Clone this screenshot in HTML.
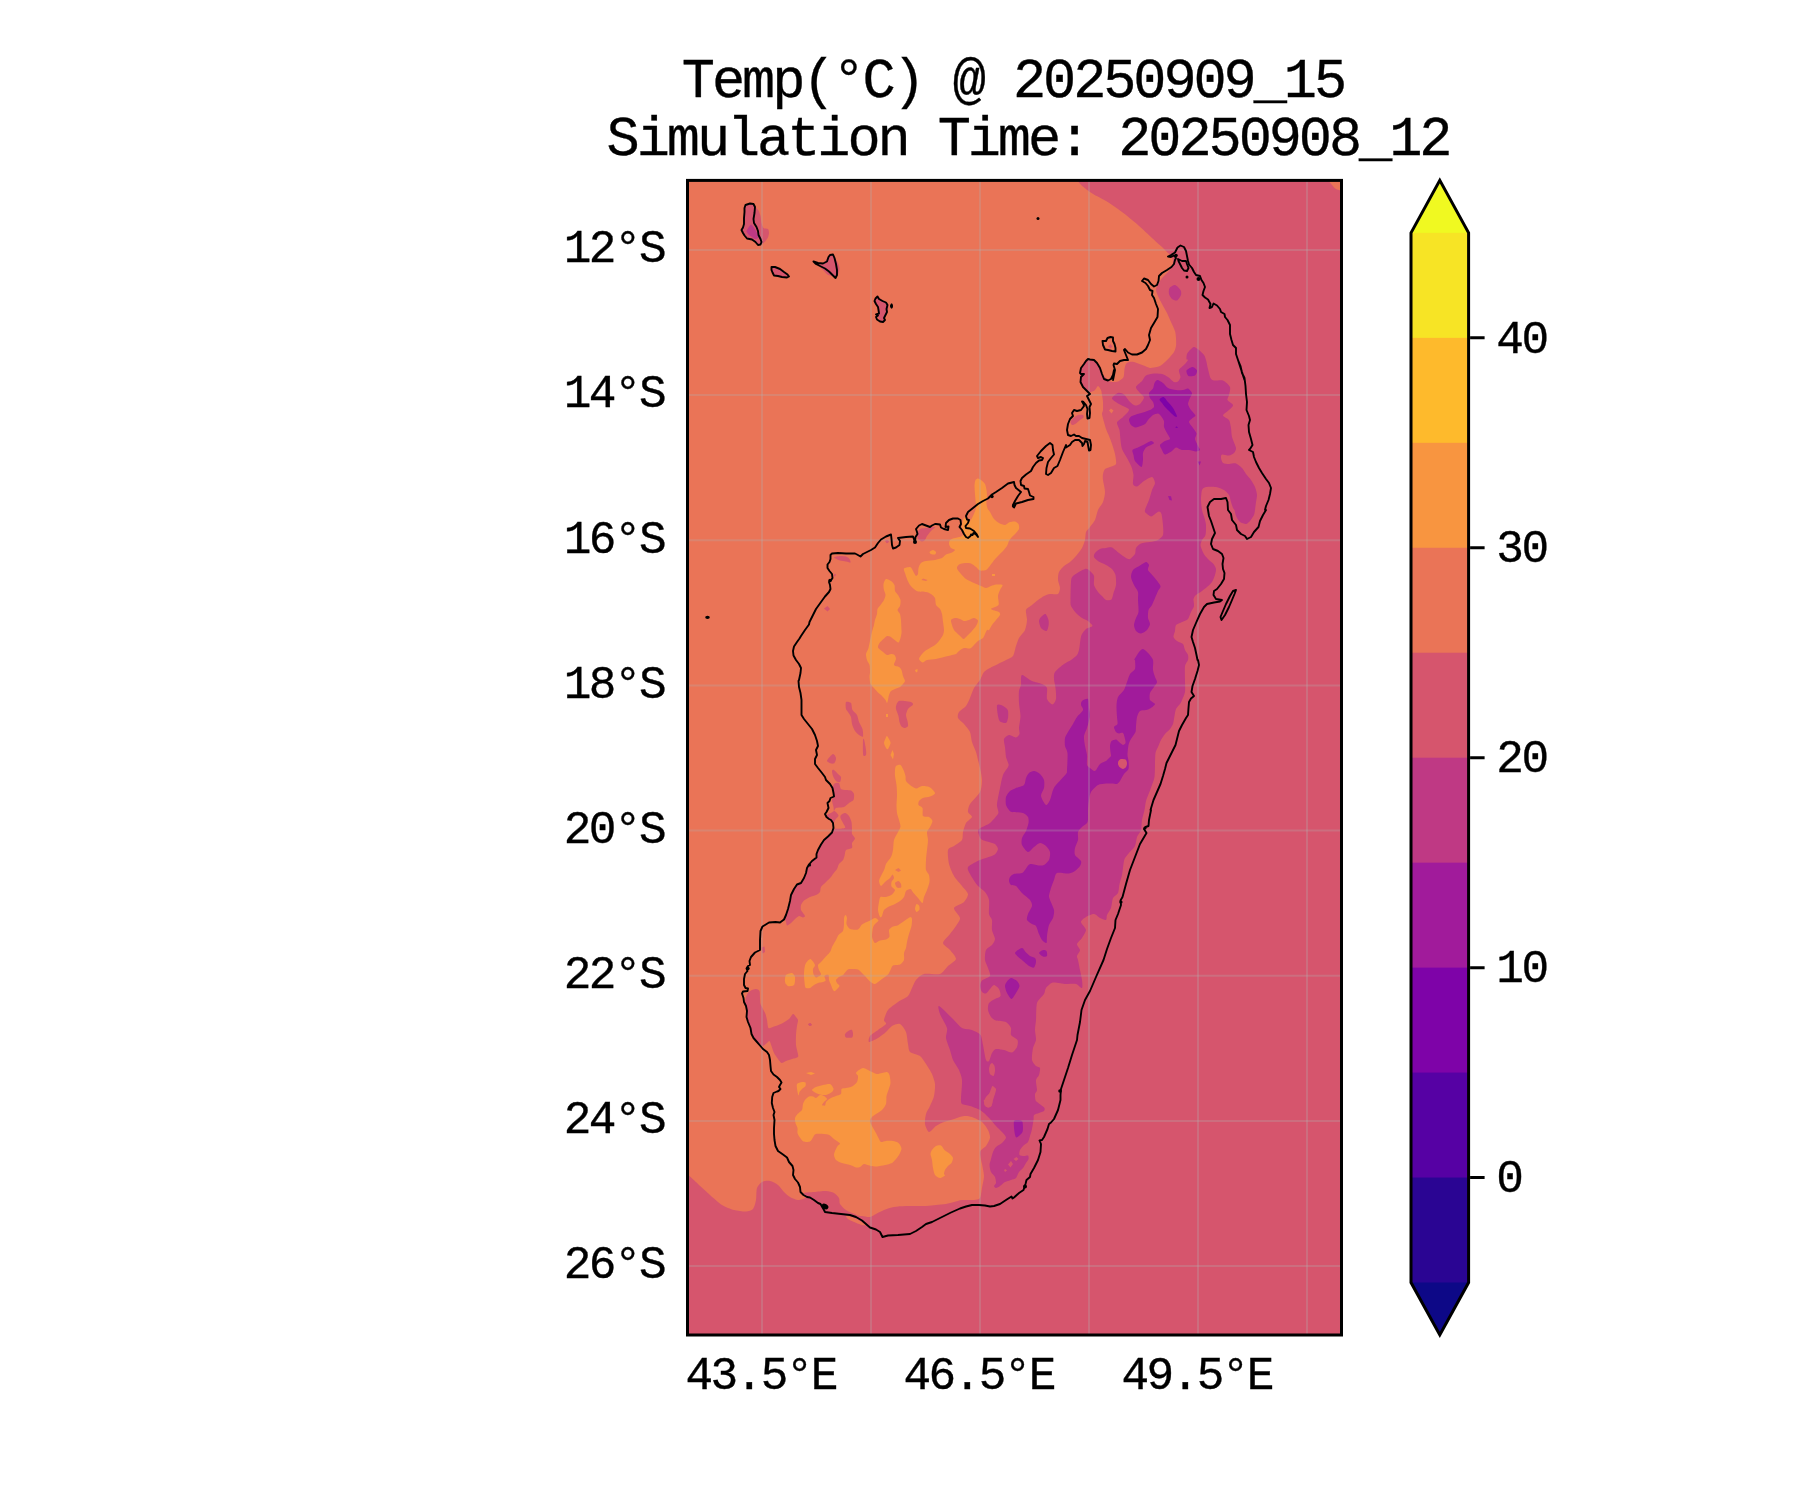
<!DOCTYPE html><html><head><meta charset="utf-8"><title>Temp</title><style>
html,body{margin:0;padding:0;background:#fff}
body{width:1800px;height:1500px;position:relative;overflow:hidden;font-family:"Liberation Mono",monospace;color:#000}
.t{position:absolute;white-space:pre;line-height:1;-webkit-text-stroke:0.35px #000;opacity:0.999;will-change:opacity}
.title{font-size:55.30px;letter-spacing:-3.086px}
.lab{font-size:46.10px;letter-spacing:-2.580px}
</style></head><body>
<svg width="1800" height="1500" viewBox="0 0 1800 1500" style="position:absolute;left:0;top:0">
<defs><clipPath id="ax"><rect x="687.5" y="180.4" width="654" height="1154.6"/></clipPath></defs>
<g clip-path="url(#ax)" shape-rendering="geometricPrecision">
<rect x="680" y="175" width="670" height="1170" fill="#ea7457"/>
<path d="M1077 150C1074.1 160 1075.4 173.7 1077 179C1078.6 184.3 1086.3 189.2 1090 192C1093.7 194.8 1101.9 198.5 1106 201C1110.1 203.5 1117.9 209 1122 212C1126.1 215 1134.2 221.7 1138 225C1141.8 228.3 1149 235.2 1152 238C1155 240.8 1160.2 245.4 1162 247C1163.8 248.6 1165 250 1166 251C1167 252 1169.1 253.9 1170 255C1170.9 256.1 1172.7 258.5 1173 260C1173.3 261.5 1172.6 265.5 1172 267C1171.4 268.5 1169.1 270.7 1168 272C1166.9 273.3 1164 275.9 1163 277C1162 278.1 1160.9 279.5 1160 281C1159.1 282.5 1156.3 287.1 1156 289C1155.7 290.9 1157.2 294.1 1158 296C1158.8 297.9 1160.9 301.8 1162 304C1163.1 306.2 1165.9 310.7 1167 313C1168.1 315.3 1170 319.7 1171 322C1172 324.3 1174.4 329 1175 331C1175.6 333 1175.9 336.1 1176 338C1176.1 339.9 1176.3 344.2 1176 346C1175.7 347.8 1174.8 350.6 1174 352C1173.2 353.4 1171.1 355.7 1170 357C1168.9 358.3 1166.3 360.9 1165 362C1163.7 363.1 1161.4 365.3 1160 366C1158.6 366.7 1155.3 367.2 1154 367.5C1152.7 367.8 1151 368.1 1150 368C1149 367.9 1147.1 366.9 1146 366.5C1144.9 366.1 1142.5 365.1 1141 364.5C1139.5 363.9 1135.5 362.3 1134 362C1132.5 361.7 1130 361.7 1129 362C1128 362.3 1126.6 363.1 1126 364C1125.4 364.9 1124.8 367.4 1124.5 369C1124.2 370.6 1124.3 375.5 1123.6 377C1122.9 378.5 1120.2 380.4 1119 381C1117.8 381.6 1115.3 382 1114 382C1112.7 382 1110.6 382.3 1109 381C1107.4 379.7 1102.4 374.2 1101 372C1099.6 369.8 1099.1 365.5 1098 364C1096.9 362.5 1093.5 360.5 1092 360C1090.5 359.5 1087.4 359 1086 360C1084.6 361 1081.8 365.5 1081 368C1080.2 370.5 1079.6 377.5 1080 380C1080.4 382.5 1082.7 386.5 1084 388C1085.3 389.5 1088.6 391.7 1090 392C1091.4 392.3 1094 390.8 1095 390C1096 389.2 1097.2 386 1098 386C1098.8 386 1100.5 388.9 1101 390C1101.5 391.1 1101.7 393.5 1102 395C1102.3 396.5 1102.9 400.1 1103 402C1103.1 403.9 1103.1 408.5 1103 410C1102.9 411.5 1101.9 412.5 1102 414C1102.1 415.5 1103.5 420.1 1104 422C1104.5 423.9 1105.4 427.2 1106 429C1106.6 430.8 1108.2 434.1 1109 436C1109.8 437.9 1111.2 441.7 1112 444C1112.8 446.3 1114.5 451.5 1115 454C1115.5 456.5 1116.6 462.4 1116 464C1115.4 465.6 1111.4 466.4 1110 467C1108.6 467.6 1105.9 468.1 1105 469C1104.1 469.9 1103.3 472.6 1103 474C1102.7 475.4 1102.7 477.7 1103 480C1103.3 482.3 1105 489.2 1105 492C1105 494.8 1103.9 499.7 1103 502C1102.1 504.3 1099 507.7 1098 510C1097 512.3 1096 517.8 1095 520C1094 522.2 1091.1 525.5 1090 527C1088.9 528.5 1086.6 530.4 1086 532C1085.4 533.6 1085.5 538 1085 540C1084.5 542 1083.1 546 1082 548C1080.9 550 1077.5 554.2 1076 556C1074.5 557.8 1071.5 560.7 1070 562C1068.5 563.3 1065.4 564.7 1064 566C1062.6 567.3 1059.8 570.2 1059 572C1058.2 573.8 1057.9 578 1058 580C1058.1 582 1060 586.2 1060 588C1060 589.8 1059.3 593.2 1058 594C1056.7 594.8 1051.8 593.7 1050 594C1048.2 594.3 1045.5 595.2 1044 596C1042.5 596.8 1039.5 598.9 1038 600C1036.5 601.1 1033.5 603.7 1032 605C1030.5 606.3 1026.6 608.1 1026 610C1025.4 611.9 1027.1 617.5 1027 620C1026.9 622.5 1026 627.7 1025 630C1024 632.3 1020.1 636 1019 638C1017.9 640 1016.8 643.7 1016 646C1015.2 648.3 1014.3 654.2 1013 656C1011.7 657.8 1007.9 659 1006 660C1004.1 661 1000 663 998 664C996 665 991.8 667 990 668C988.2 669 985.3 670.5 984 672C982.7 673.5 981.3 678 980 680C978.7 682 975.3 685.7 974 688C972.7 690.3 971 695.7 970 698C969 700.3 967.4 704.2 966 706C964.6 707.8 960 710.5 959 712C958 713.5 957.4 716.5 958 718C958.6 719.5 962.5 722.2 964 724C965.5 725.8 969 729.7 970 732C971 734.3 971.2 739.5 972 742C972.8 744.5 975.2 749.7 976 752C976.8 754.3 977.5 758 978 760C978.5 762 979.5 765.5 980 768C980.5 770.5 982 777 982 780C982 783 981.5 789 980 792C978.5 795 971.5 801.5 970 804C968.5 806.5 967.7 810.4 968 812C968.3 813.6 972.3 815.6 972 817C971.7 818.4 967.1 821.1 966 823C964.9 824.9 963.5 829.8 963 832C962.5 834.2 963.1 838.2 962 840C960.9 841.8 955.8 844.7 954 846C952.2 847.3 948.6 847.7 948 850C947.4 852.3 948.2 860.7 949 864C949.8 867.3 952.4 873.2 954 876C955.6 878.8 960.2 883.7 962 886C963.8 888.3 967.7 892 968 894C968.3 896 965.8 900.2 964 902C962.2 903.8 954.5 906 954 908C953.5 910 959.7 915.7 960 918C960.3 920.3 957.3 924 956 926C954.7 928 951.6 931.8 950 934C948.4 936.2 943 941 943 943C943 945 948.4 948 950 950C951.6 952 956.3 957 956 959C955.7 961 950 964.1 948 966C946 967.9 943 973 940 974C937 975 927 973.2 924 974C921 974.8 917.5 978.2 916 980C914.5 981.8 913 986 912 988C911 990 909.8 994.2 908 996C906.2 997.8 900.5 1000.2 898 1002C895.5 1003.8 889.8 1007.7 888 1010C886.2 1012.3 884.3 1018.2 884 1020C883.7 1021.8 886.8 1022.7 886 1024C885.2 1025.3 880 1028.5 878 1030C876 1031.5 871.1 1034.5 870 1036C868.9 1037.5 868 1041.7 869 1042C870 1042.3 875.8 1039.3 878 1038C880.2 1036.7 884.2 1033.5 886 1032C887.8 1030.5 890.2 1027 892 1026C893.8 1025 898.2 1023.2 900 1024C901.8 1024.8 905 1029.5 906 1032C907 1034.5 907.5 1041.5 908 1044C908.5 1046.5 908.5 1050.5 910 1052C911.5 1053.5 918 1054.5 920 1056C922 1057.5 924.5 1061.7 926 1064C927.5 1066.3 930.9 1071.5 932 1074C933.1 1076.5 934.7 1081.2 935 1084C935.3 1086.8 934.6 1093.2 934 1096C933.4 1098.8 931 1103.7 930 1106C929 1108.3 926.6 1111.7 926 1114C925.4 1116.3 924.6 1121.7 925 1124C925.4 1126.3 927.6 1131.7 929 1132C930.4 1132.3 934.1 1127.3 936 1126C937.9 1124.7 941.7 1122.9 944 1122C946.3 1121.1 951.5 1119.8 954 1119C956.5 1118.2 961.7 1116.3 964 1116C966.3 1115.7 969.7 1116.2 972 1117C974.3 1117.8 980 1120.4 982 1122C984 1123.6 987 1128 988 1130C989 1132 990.3 1136 990 1138C989.7 1140 987.3 1144.2 986 1146C984.7 1147.8 980.5 1149.7 980 1152C979.5 1154.3 981.5 1161 982 1164C982.5 1167 984 1173 984 1176C984 1179 982.5 1185.2 982 1188C981.5 1190.8 981 1196.5 980 1198C979 1199.5 976.3 1199.7 974 1200C971.7 1200.3 964.5 1199.7 962 1200C959.5 1200.3 956 1201.5 954 1202C952 1202.5 948.3 1203.6 946 1204C943.7 1204.4 938.5 1204.7 936 1205C933.5 1205.3 929.8 1205.9 926 1206C922.2 1206.1 910.1 1205.9 906 1206C901.9 1206.1 896.8 1206.5 894 1207C891.2 1207.5 886.3 1209.1 884 1210C881.7 1210.9 877.8 1213.1 876 1214C874.2 1214.9 871.8 1216.7 870 1217C868.2 1217.3 863.5 1216.2 862 1216C860.5 1215.8 860 1216.4 858 1215.6C856 1214.8 848.3 1211.5 846 1210C843.7 1208.5 840.9 1205.5 840 1204C839.1 1202.5 839.8 1199.4 839 1198C838.2 1196.6 835.6 1193.9 834 1193C832.4 1192.1 828.5 1191.1 826 1191C823.5 1190.9 816.8 1191.7 814 1192C811.2 1192.3 805 1192.3 804 1193C803 1193.7 806.8 1196.5 806 1197.4C805.2 1198.3 800 1200.1 798 1200C796 1199.9 791.8 1198 790 1197C788.2 1196 785.5 1193.5 784 1192C782.5 1190.5 779.8 1186.4 778 1185C776.2 1183.6 772 1181.4 770 1181C768 1180.6 763.6 1181.1 762 1182C760.4 1182.9 757.8 1185.7 757 1188C756.2 1190.3 756.5 1197.3 756 1200C755.5 1202.7 754.3 1207.5 753 1209C751.7 1210.5 748.4 1211.5 746 1211.6C743.6 1211.7 737 1210.8 734 1210C731 1209.2 725 1206.9 722 1205C719 1203.1 713 1197.7 710 1195C707 1192.3 701 1186.8 698 1184C695 1181.2 689 1175.5 686 1173C683 1170.5 679.1 1165.6 674 1164C668.9 1162.4 655.4 1155.4 646 1160C636.6 1164.6 605.8 1167.1 600 1200C594.2 1232.9 496.1 1392.1 600 1420C703.9 1447.9 1316.1 1587.2 1420 1420C1523.9 1252.8 1460.5 267.2 1420 100C1379.5 -67.2 1143.4 93.7 1100 100C1056.6 106.3 1079.9 140 1077 150Z" fill="#d6556d"/>
<path d="M846 1216C846.5 1215.7 850.2 1216.4 852 1217C853.8 1217.6 858.2 1220 860 1221C861.8 1222 865.7 1224.5 866 1225C866.3 1225.5 863.5 1225.4 862 1225C860.5 1224.6 855.8 1222.8 854 1222C852.2 1221.2 849 1219.8 848 1219C847 1218.2 845.5 1216.3 846 1216Z" fill="#ea7457"/>
<path d="M1329 180C1327.7 180.6 1331.1 183.9 1332 185C1332.9 186.1 1334.7 188.4 1336 189C1337.3 189.6 1341.2 191.1 1342 190C1342.8 188.9 1343.6 181.3 1342 180C1340.4 178.7 1330.3 179.4 1329 180Z" fill="#ea7457"/>
<path d="M1194 347C1195.1 347 1197.7 349 1199 350C1200.3 351 1203.1 353.7 1204 355C1204.9 356.3 1205.5 358.2 1206 360C1206.5 361.8 1207.4 366.7 1208 369C1208.6 371.3 1209.7 376.5 1210.5 378C1211.3 379.5 1212.4 380.2 1214 380.5C1215.6 380.8 1221 379.7 1223 380.5C1225 381.3 1229.2 385.2 1230 387C1230.8 388.8 1229.3 393.4 1229 395C1228.7 396.6 1227 398.7 1227.5 400C1228 401.3 1232.8 403.7 1233 405C1233.2 406.3 1230.3 408.7 1229 410C1227.7 411.3 1223 414.2 1223 415.5C1223 416.8 1228 418.4 1229 420C1230 421.6 1230.6 425.8 1231 428C1231.4 430.2 1231.4 434.5 1232 437C1232.6 439.5 1235.7 446 1236 448C1236.3 450 1234.9 452.1 1234 453C1233.1 453.9 1230.5 455.3 1229 455.5C1227.5 455.7 1223 454.2 1222 454.5C1221 454.8 1220.9 456.9 1221 458C1221.1 459.1 1222 462.2 1223 463C1224 463.8 1227.4 463.9 1229 464C1230.6 464.1 1234.4 463 1236 463.5C1237.6 464 1240.7 466.7 1242 468C1243.3 469.3 1244.9 472.5 1246 474C1247.1 475.5 1249.9 478.4 1251 480C1252.1 481.6 1254.2 485.1 1255 487C1255.8 488.9 1256.9 493.1 1257 495C1257.1 496.9 1256.3 500.1 1256 502C1255.7 503.9 1255.3 508.4 1255 510C1254.7 511.6 1254.6 513.6 1254 515C1253.4 516.4 1251 519.9 1250 521C1249 522.1 1247.3 523.9 1246 524C1244.7 524.1 1241.3 523 1240 522C1238.7 521 1236.7 517.5 1236 516C1235.3 514.5 1234.9 511 1234.5 510C1234.1 509 1233.4 509 1233 508C1232.6 507 1231.5 503.6 1231 502C1230.5 500.4 1229.9 496.5 1229 495C1228.1 493.5 1225.6 491 1224 490C1222.4 489 1218.3 487.4 1216 487C1213.7 486.6 1207.8 486.6 1206 487C1204.2 487.4 1202.6 488.4 1202 490C1201.4 491.6 1201 497.5 1201 500C1201 502.5 1201.6 507.7 1202 510C1202.4 512.3 1204 516.1 1204.5 518C1205 519.9 1205.9 522.8 1206 525C1206.1 527.2 1206 533.1 1205.5 535C1205 536.9 1202.6 538.7 1202 540C1201.4 541.3 1200.5 543.7 1200.5 545C1200.5 546.3 1201.5 548.7 1202 550C1202.5 551.3 1203.6 553.7 1204.5 555C1205.4 556.3 1207.9 558.9 1209 560C1210.1 561.1 1212.6 562.9 1213.5 564C1214.4 565.1 1215.8 567.6 1216 569C1216.2 570.4 1215.5 573.4 1215 575C1214.5 576.6 1213 580.5 1212 582C1211 583.5 1208.3 585.9 1207 587C1205.7 588.1 1203.4 590 1202 591C1200.6 592 1197.1 594 1196 595C1194.9 596 1193.8 597.6 1193.5 599C1193.2 600.4 1194.3 604.4 1194 606C1193.7 607.6 1191.8 610.4 1191 612C1190.2 613.6 1189.1 617.7 1188 619C1186.9 620.3 1183.5 621.2 1182 622C1180.5 622.8 1176.9 623.9 1176 625C1175.1 626.1 1175.3 629.5 1175 631C1174.7 632.5 1173.2 635.7 1173.5 637C1173.8 638.3 1175.8 640.1 1177 641C1178.2 641.9 1182 642.9 1183 644C1184 645.1 1184.4 648.6 1185 650C1185.6 651.4 1187.6 653.7 1188 655C1188.4 656.3 1188.4 658.6 1188 660C1187.6 661.4 1185.4 663.5 1185 666C1184.6 668.5 1185 676.7 1185 680C1185 683.3 1185.4 689.5 1185 692C1184.6 694.5 1182.6 698.5 1182 700C1181.4 701.5 1180.8 702.9 1180 704C1179.2 705.1 1176.7 707.5 1176 709C1175.3 710.5 1174.9 714.1 1174.5 716C1174.1 717.9 1173.6 722.4 1173 724C1172.4 725.6 1171 727.7 1170 729C1169 730.3 1166.1 732.6 1165 734C1163.9 735.4 1161.9 738.4 1161 740C1160.1 741.6 1158.7 745.4 1158 747C1157.3 748.6 1155.9 750.7 1155.5 753C1155.1 755.3 1155.1 762 1155 765C1154.9 768 1154.9 774.5 1154.5 777C1154.1 779.5 1152.7 783 1152 785C1151.3 787 1149.8 791 1149 793C1148.2 795 1146.6 798.8 1146 801C1145.4 803.2 1145 807.6 1144.5 810C1144 812.4 1142.4 817.5 1142 820C1141.6 822.5 1141.6 827.8 1141 830C1140.4 832.2 1137.8 835 1137 837C1136.2 839 1136 844 1135 846C1134 848 1130.3 851.4 1129 853C1127.7 854.6 1125.3 857.1 1124.5 859C1123.7 860.9 1123.3 866 1123 868C1122.7 870 1122.4 873 1122 875C1121.6 877 1120 881.7 1119.5 884C1119 886.3 1118.8 891.2 1118 893C1117.2 894.8 1113.9 896.1 1113 898C1112.1 899.9 1111.8 905.8 1111 908C1110.2 910.2 1107.6 913.5 1107 915C1106.4 916.5 1106.9 919.6 1106 920C1105.1 920.4 1101.5 918.8 1100 918C1098.5 917.2 1095.8 914.1 1094 914C1092.2 913.9 1087.6 916 1086 917C1084.4 918 1081 920.4 1081 922C1081 923.6 1085.9 928 1086 930C1086.1 932 1083.1 936.2 1082 938C1080.9 939.8 1077.3 942.5 1077 944C1076.7 945.5 1080 948.5 1080 950C1080 951.5 1077.3 954.7 1077 956C1076.7 957.3 1077.6 958.2 1078 960C1078.4 961.8 1079.5 967.5 1080 970C1080.5 972.5 1081.7 977.7 1082 980C1082.3 982.3 1082.8 987.5 1082 988C1081.2 988.5 1078 984.5 1076 984C1074 983.5 1068.9 984.2 1066 984C1063.1 983.8 1055.5 982 1053 982.5C1050.5 983 1047.1 986.5 1046 988C1044.9 989.5 1045.1 992.1 1044 994C1042.9 995.9 1038 999.7 1037 1003C1036 1006.3 1036.3 1016.6 1036 1020C1035.7 1023.4 1035 1027.5 1035 1030C1035 1032.5 1036.3 1037.7 1036 1040C1035.7 1042.3 1033.5 1045.5 1033 1048C1032.5 1050.5 1031.6 1057.7 1032 1060C1032.4 1062.3 1035 1065 1036 1066C1037 1067 1039.6 1066.9 1040 1068C1040.4 1069.1 1039.5 1073.5 1039 1075C1038.5 1076.5 1036.3 1078.1 1036 1080C1035.7 1081.9 1037.1 1088.2 1037 1090C1036.9 1091.8 1035.2 1092.7 1035 1094C1034.8 1095.3 1035.2 1099 1035.5 1100C1035.8 1101 1036.3 1101.4 1037 1102C1037.7 1102.6 1040 1104.2 1041 1105C1042 1105.8 1044.1 1107.2 1044.5 1108C1044.9 1108.8 1044.7 1110.4 1044 1111C1043.3 1111.6 1040.3 1112.5 1039 1113C1037.7 1113.5 1034.7 1114.1 1034 1115C1033.3 1115.9 1033.8 1118.2 1033.5 1120C1033.2 1121.8 1032.4 1127 1032 1129C1031.6 1131 1030.5 1134.4 1030 1136C1029.5 1137.6 1028.8 1140.8 1028 1142C1027.2 1143.2 1024.5 1144.5 1023.5 1145.5C1022.5 1146.5 1020.5 1148.8 1020 1150C1019.5 1151.2 1019 1154.2 1019.5 1155C1020 1155.8 1022.9 1155.9 1024 1156C1025.1 1156.1 1027.4 1155.1 1028 1155.5C1028.6 1155.9 1028.8 1158 1028.5 1159C1028.2 1160 1026.7 1161.9 1026 1163C1025.3 1164.1 1023.9 1166.9 1023 1168C1022.1 1169.1 1019.9 1170.7 1019 1172C1018.1 1173.3 1017 1177 1016 1178C1015 1179 1012.4 1179.5 1011 1180C1009.6 1180.5 1006.4 1181.2 1005 1182C1003.6 1182.8 1001.1 1185.2 1000 1186C998.9 1186.8 996.8 1188 996 1188C995.2 1188 994 1186.6 994 1186C994 1185.4 995.9 1184.1 996 1183C996.1 1181.9 995.6 1178.4 995 1177C994.4 1175.6 991.7 1173.5 991 1172C990.3 1170.5 989.5 1166.6 989.5 1165C989.5 1163.4 990.6 1160.6 991 1159C991.4 1157.4 992.4 1153.5 993 1152C993.6 1150.5 994.9 1148.1 996 1147C997.1 1145.9 1000.7 1144.2 1002 1143C1003.3 1141.8 1006 1138.9 1006 1137.5C1006 1136.1 1003.3 1133.5 1002 1132C1000.7 1130.5 997.5 1127.6 996 1126C994.5 1124.4 991.5 1120.6 990 1119C988.5 1117.4 985.5 1114.3 984 1113C982.5 1111.7 979.8 1109.9 978 1109C976.2 1108.1 972 1106.6 970 1106C968 1105.4 963.1 1104.8 962 1104C960.9 1103.2 961.1 1100.8 961 1100C960.9 1099.2 960.9 1100.5 961 1098C961.1 1095.5 962.3 1083.5 962 1080C961.7 1076.5 960.1 1072.5 959 1070C957.9 1067.5 954.1 1062.5 953 1060C951.9 1057.5 950.9 1052.8 950 1050C949.1 1047.2 946.4 1040.8 946 1038C945.6 1035.2 947.8 1031 947 1028C946.2 1025 941 1016.8 940 1014C939 1011.2 937.4 1005.4 939 1006C940.6 1006.6 950.1 1016.2 953 1019C955.9 1021.8 959.6 1026.6 962 1028C964.4 1029.4 969.7 1029.1 972 1030C974.3 1030.9 979.1 1033.1 980.5 1035C981.9 1036.9 982.3 1041.8 983 1045C983.7 1048.2 985.2 1058 986 1060C986.8 1062 988.2 1061.9 989 1061C989.8 1060.1 991.1 1054.5 992 1053C992.9 1051.5 994.5 1049.4 996 1049C997.5 1048.6 1002 1049.6 1004 1050C1006 1050.4 1010.4 1052.9 1012 1052.5C1013.6 1052.1 1016.3 1048.6 1017 1047C1017.7 1045.4 1018.3 1041.5 1017.5 1040C1016.7 1038.5 1011.8 1036.5 1011 1035C1010.2 1033.5 1011.6 1029.6 1011 1028C1010.4 1026.4 1007.9 1023 1006 1022C1004.1 1021 997.9 1021.1 996 1020.5C994.1 1019.9 992 1018.3 991 1017C990 1015.7 988.3 1011.8 988 1010C987.7 1008.2 988.1 1004.4 989 1003C989.9 1001.6 993.5 999.9 995 999C996.5 998.1 1000 997.3 1000.5 996C1001 994.7 999.8 990.4 999 989C998.2 987.6 995.1 985 994 985C992.9 985 991 987.9 990 989C989 990.1 987 993.1 986 993.5C985 993.9 982.8 993 982 992C981.2 991 980 987.5 980 986C980 984.5 980.7 981.8 982 980.5C983.3 979.2 989.2 977.6 990 976C990.8 974.4 988.6 970 988 968C987.4 966 985.3 962.3 985 960C984.7 957.7 985.1 951.9 986 950C986.9 948.1 990.9 946.4 992 945C993.1 943.6 995 940.9 995 939C995 937.1 992.4 932.4 992 930C991.6 927.6 992.4 922 992 920C991.6 918 989.4 916.5 989 914C988.6 911.5 989.5 902.8 989 900C988.5 897.2 986.4 893.8 985 892C983.6 890.2 979.5 887.6 978 886C976.5 884.4 974.3 881 973 879C971.7 877 968.5 871.6 968 870C967.5 868.4 967.5 867.3 969 866C970.5 864.7 976.8 861.4 980 860C983.2 858.6 991.7 856.4 994 855C996.3 853.6 997.9 850.4 998 849C998.1 847.6 996.1 844.9 995 844C993.9 843.1 990.8 842.6 989 842C987.2 841.4 982.4 840.4 981 839C979.6 837.6 978.1 832.4 978 831C977.9 829.6 979 829 980.5 828C982 827 987.8 824.8 990 823C992.2 821.2 997 815.6 998 814C999 812.4 998.1 811.3 998 810C997.9 808.7 996.7 806.8 997 804C997.3 801.2 999.2 791.7 1000 788C1000.8 784.3 1002 777.7 1003 775C1004 772.3 1007.3 768.4 1008 767C1008.7 765.6 1008.8 765.3 1008.5 764C1008.2 762.7 1006.4 759.2 1006 757C1005.6 754.8 1005.3 749.3 1005 747C1004.7 744.7 1003.5 740.5 1004 739C1004.5 737.5 1007.5 735.2 1009 735C1010.5 734.8 1014.7 737.6 1016 737.5C1017.3 737.4 1019.1 735.2 1019.5 734C1019.9 732.8 1018.9 730.3 1019 728C1019.1 725.7 1020.5 719.2 1020.5 716C1020.5 712.8 1019.2 706.2 1019 703C1018.8 699.8 1018.7 693.3 1019 691C1019.3 688.7 1020.7 686.6 1021 685C1021.3 683.4 1020.8 679.3 1021 678C1021.2 676.7 1021.1 674.6 1022.5 675C1023.9 675.4 1029.5 679.9 1032 681C1034.5 682.1 1040.1 683.1 1042 684C1043.9 684.9 1046.4 686.1 1047 688C1047.6 689.9 1046.3 696.9 1047 699C1047.7 701.1 1051.4 704.5 1052.5 704.5C1053.6 704.5 1055.6 701.1 1056 699C1056.4 696.9 1055.8 690.5 1055.5 688C1055.2 685.5 1054.1 681 1054 679C1053.9 677 1053.7 673.9 1055 672C1056.3 670.1 1062 665.5 1064 664C1066 662.5 1069.4 661.1 1071 660C1072.6 658.9 1076 656.3 1077 655C1078 653.7 1078.6 651.5 1079 650C1079.4 648.5 1079.7 644.9 1080 643C1080.3 641.1 1080.7 636.8 1081.5 635C1082.3 633.2 1084.6 630.1 1086 629C1087.4 627.9 1092.2 627 1092.5 626C1092.8 625 1089.3 622 1088 621C1086.7 620 1083.5 619 1082 618C1080.5 617 1077.4 614.5 1076 613C1074.6 611.5 1071.7 607.6 1071 606C1070.3 604.4 1070.5 603 1070.5 600C1070.5 597 1070.7 585 1071 582C1071.3 579 1071.2 577.6 1073 576C1074.8 574.4 1082.8 569.6 1085 569C1087.2 568.4 1088.9 570.1 1090 571C1091.1 571.9 1093.5 574.2 1094 576C1094.5 577.8 1093.5 583 1094 585C1094.5 587 1097 590.6 1098 592C1099 593.4 1101 595 1102 596C1103 597 1104.8 599.6 1106 600C1107.2 600.4 1110.5 600.4 1111.5 599.5C1112.5 598.6 1112.9 594.8 1113.5 593C1114.1 591.2 1115.7 587.3 1116 585C1116.3 582.7 1116 577 1115.5 575C1115 573 1113.2 570.3 1112 569C1110.8 567.7 1107.8 566 1106 565C1104.2 564 1099.5 562 1098 561C1096.5 560 1094.4 558 1094 557C1093.6 556 1094.2 554 1095 553C1095.8 552 1098.6 549.6 1100 549C1101.4 548.4 1104.5 548.2 1106 548C1107.5 547.8 1110.4 546.9 1112 547.5C1113.6 548.1 1117.2 551.7 1119 553C1120.8 554.3 1124.6 557.2 1126 558C1127.4 558.8 1128.9 559.5 1130 559C1131.1 558.5 1134.2 555.4 1135 554C1135.8 552.6 1135.2 549.3 1136 548C1136.8 546.7 1139.2 544.3 1141 543.5C1142.8 542.7 1147.8 542.4 1150 542C1152.2 541.6 1156.4 540.9 1158 540C1159.6 539.1 1162.4 536.9 1163 535C1163.6 533.1 1163.2 527.7 1163 525C1162.8 522.3 1162 515.7 1161.5 514C1161 512.3 1159.8 511.5 1159 511.5C1158.2 511.5 1156 513.4 1155 514C1154 514.6 1152.1 516.6 1151 516.5C1149.9 516.4 1146.8 513.8 1146 513C1145.2 512.2 1144.6 511.6 1145 510C1145.4 508.4 1148.1 502.5 1149 500C1149.9 497.5 1151.2 492.2 1152 490C1152.8 487.8 1155 484.6 1155 483C1155 481.4 1153.4 477.3 1152 477C1150.6 476.7 1145.9 479.8 1144 481C1142.1 482.2 1138.4 486.1 1137 486.5C1135.6 486.9 1133.4 485.5 1133 484C1132.6 482.5 1133.7 477.2 1133.5 475C1133.3 472.8 1132.3 469.2 1131.5 467C1130.7 464.8 1128.2 460.3 1127 458C1125.8 455.7 1122.8 451.3 1122 449C1121.2 446.7 1120.8 442.4 1120.5 440C1120.2 437.6 1119.9 432.2 1119.5 430C1119.1 427.8 1116.6 424.1 1117 422.5C1117.4 420.9 1121.5 418.6 1123 417C1124.5 415.4 1129.5 411.1 1129 409.5C1128.5 407.9 1121.2 405.4 1119 404C1116.8 402.6 1112.1 399.9 1112 398.5C1111.9 397.1 1116.5 393.5 1118 393C1119.5 392.5 1122.5 393.4 1124 394.5C1125.5 395.6 1128.6 400.6 1130 402C1131.4 403.4 1133.7 405.2 1135 405.5C1136.3 405.8 1138.9 405 1140 404C1141.1 403 1144 398.9 1144 397.5C1144 396.1 1141 394.3 1140 393C1139 391.7 1135.7 388.5 1136 387C1136.3 385.5 1140.7 382.5 1142 381C1143.3 379.5 1144.5 376.4 1146 375.5C1147.5 374.6 1152 373.7 1154 373.5C1156 373.3 1160.2 373.6 1162 374C1163.8 374.4 1166.5 376 1168 377C1169.5 378 1172.7 381.4 1174 382C1175.3 382.6 1177.2 382.1 1178 381.5C1178.8 380.9 1180.4 378.5 1180.5 377C1180.6 375.5 1178.4 371.6 1179 370C1179.6 368.4 1183.9 365.3 1185 364C1186.1 362.7 1187.8 360.6 1188 360C1188.2 359.4 1186.6 359.8 1186.5 359C1186.4 358.2 1186.6 355.1 1187 354C1187.4 352.9 1189.1 350.9 1190 350C1190.9 349.1 1192.9 347 1194 347Z" fill="#bf3984"/>
<path d="M997 705.5C997.4 704.1 999.9 704.7 1001 705C1002.1 705.3 1005.1 707.2 1006 708C1006.9 708.8 1007.7 709.7 1008 711C1008.3 712.3 1008.3 716.5 1008 718C1007.7 719.5 1007 722.6 1006 723C1005 723.4 1001 722.4 1000 721.5C999 720.6 998.4 718 998 716C997.6 714 996.6 706.9 997 705.5Z" fill="#bf3984"/>
<path d="M1045.5 614C1046.5 614.4 1048.1 618.5 1048.5 620C1048.9 621.5 1048.8 624.6 1048.5 626C1048.2 627.4 1047.5 630.7 1046.5 631C1045.5 631.3 1042 629.3 1041 628C1040 626.7 1039 622.4 1039 621C1039 619.6 1040.2 617.9 1041 617C1041.8 616.1 1044.5 613.6 1045.5 614Z" fill="#bf3984"/>
<path d="M992 1063C992.6 1063.1 994.1 1065 994.5 1066C994.9 1067 995.1 1069.7 995 1071C994.9 1072.3 994.1 1075.6 993.5 1076C992.9 1076.4 990.6 1074.9 990 1074C989.4 1073.1 989 1070.1 989 1069C989 1067.9 989.6 1065.8 990 1065C990.4 1064.2 991.4 1062.9 992 1063Z" fill="#d6556d"/>
<path d="M992.5 1086C993.1 1086 995.7 1088 996 1089C996.3 1090 995.4 1092.6 995 1094C994.6 1095.4 993.4 1098.5 993 1100C992.6 1101.5 992.1 1105 991.5 1106C990.9 1107 988.8 1107.5 988 1107.5C987.2 1107.5 985.5 1106.7 985 1106C984.5 1105.3 983.9 1103.1 984 1102C984.1 1100.9 985.3 1098.1 986 1097C986.7 1095.9 988.9 1094 989.5 1093C990.1 1092 990.6 1089.9 991 1089C991.4 1088.1 991.9 1086 992.5 1086Z" fill="#d6556d"/>
<path d="M984 1100C983.1 1100.6 984.5 1104 985 1105C985.5 1106 987.2 1107.4 988 1107.5C988.8 1107.6 991 1106.5 991.5 1105.5C992 1104.5 993 1100.7 992 1100C991 1099.3 984.9 1099.4 984 1100Z" fill="#d6556d"/>
<path d="M1013.5 1159 L1016.5 1157 L1018.5 1159 L1016 1161Z" fill="#d6556d"/>
<path d="M1008 1164.5 L1011 1161 L1013 1164 L1010.5 1167.5Z" fill="#d6556d"/>
<path d="M1004 1170 L1005.5 1169 L1007 1170.5 L1005 1172Z" fill="#d6556d"/>
<path d="M1186.5 370.5C1187 369.4 1191.2 367 1192.5 367C1193.8 367 1196.7 369.4 1197 370.5C1197.3 371.6 1196.1 374.8 1195 375.5C1193.9 376.2 1189.6 376.6 1188.5 376C1187.4 375.4 1186 371.6 1186.5 370.5Z" fill="#a11b9b"/>
<path d="M1157.5 380C1158.6 380 1161.7 382 1163 383C1164.3 384 1166.4 387.1 1168 388C1169.6 388.9 1174.1 389.7 1176 390C1177.9 390.3 1181.5 390.2 1183 390C1184.5 389.8 1186.9 388.1 1188 388.5C1189.1 388.9 1191.7 391.8 1192 393C1192.3 394.2 1190.5 396.6 1190 398C1189.5 399.4 1187.9 402.5 1188 404C1188.1 405.5 1190 408.5 1191 410C1192 411.5 1195.4 414.4 1195.5 415.5C1195.6 416.6 1192.8 417.7 1192 418.5C1191.2 419.3 1188.9 420.8 1189 422C1189.1 423.2 1192 426.5 1193 428C1194 429.5 1196.2 432.1 1196.5 433.5C1196.8 434.9 1194.8 437.4 1195 439C1195.2 440.6 1197.4 444.6 1198 446C1198.6 447.4 1200.3 449.3 1200 450C1199.7 450.7 1197.4 451.5 1196 451.5C1194.6 451.5 1190.8 450.2 1189 450C1187.2 449.8 1183.6 450.3 1182 450C1180.4 449.7 1177.3 447.4 1176 447.5C1174.7 447.6 1173.4 450.1 1172 451C1170.6 451.9 1166.3 454.6 1165 454.5C1163.7 454.4 1162.6 451.2 1162 450C1161.4 448.8 1159.6 446.1 1160 445C1160.4 443.9 1163.7 441.8 1165 441C1166.3 440.2 1169.7 440 1170 439C1170.3 438 1167.8 434.5 1167 433C1166.2 431.5 1164.4 428.5 1164 427C1163.6 425.5 1164.4 422.5 1164 421C1163.6 419.5 1161.3 416.4 1160.5 415.5C1159.7 414.6 1159 413.6 1158 413.5C1157 413.4 1154.3 414.2 1153 415C1151.7 415.8 1149 418.9 1148 420C1147 421.1 1146.5 423.1 1145 424C1143.5 424.9 1137.8 427.4 1136 427.5C1134.2 427.6 1131.9 425.9 1131 425C1130.1 424.1 1129 421.1 1129 420C1129 418.9 1130.1 417.2 1131 416.5C1131.9 415.8 1134.5 415 1136 414.5C1137.5 414 1141.2 413.1 1143 412.5C1144.8 411.9 1148.6 410.7 1150 410C1151.4 409.3 1153.6 408 1154 407C1154.4 406 1153.5 403.1 1153 402C1152.5 400.9 1150.5 399.1 1150 398C1149.5 396.9 1148.6 394.2 1149 393C1149.4 391.8 1152.3 389.8 1153 388.5C1153.7 387.2 1153.9 384.1 1154.5 383C1155.1 381.9 1156.4 380 1157.5 380Z" fill="#a11b9b"/>
<path d="M1132.5 450C1133.2 449 1137.4 447.8 1139 447C1140.6 446.2 1143.5 444.8 1145 444C1146.5 443.2 1149.9 441.1 1151 441C1152.1 440.9 1154 442.5 1154 443C1154 443.5 1152 444.4 1151 445C1150 445.6 1147 446.5 1146 447.5C1145 448.5 1143.4 451.4 1143 453C1142.6 454.6 1143.2 458.2 1143 460C1142.8 461.8 1142.5 466.9 1141.5 467C1140.5 467.1 1136 462.5 1135 461C1134 459.5 1133.8 456.4 1133.5 455C1133.2 453.6 1131.8 451 1132.5 450Z" fill="#a11b9b"/>
<path d="M1159.5 399.5C1159.7 398.7 1162.4 396.7 1163.5 397C1164.6 397.3 1166.8 400.6 1168 402C1169.2 403.4 1171.9 406.2 1173 408C1174.1 409.8 1176.7 414.9 1177 416C1177.3 417.1 1175.9 417 1175 416.5C1174.1 416 1171.3 413.2 1170 412C1168.7 410.8 1166 408.1 1165 407C1164 405.9 1162.7 403.9 1162 403C1161.3 402.1 1159.3 400.3 1159.5 399.5Z" fill="#7e03a8"/>
<path d="M1175.2 427.8 L1176.6 426.2 L1178 428Z" fill="#7e03a8"/>
<path d="M1197.5 461.5 L1201 461.5 L1199.5 465.5Z" fill="#a11b9b"/>
<path d="M1168 496 L1171 496.2 L1172 500.5 L1169.5 500Z" fill="#a11b9b"/>
<path d="M1146 562C1147.1 561.9 1148.7 564 1149 565C1149.3 566 1147.4 568.5 1148 570C1148.6 571.5 1152.4 575 1154 577C1155.6 579 1160 584.2 1160.5 586C1161 587.8 1158.7 589.5 1158 591C1157.3 592.5 1155.8 596.2 1155 598C1154.2 599.8 1152.8 603.5 1152 605C1151.2 606.5 1149 608.4 1148.5 610C1148 611.6 1147.8 616.2 1148 618C1148.2 619.8 1150.1 622.5 1150 624C1149.9 625.5 1148.1 628.8 1147 630C1145.9 631.2 1142.4 633.4 1141 633.5C1139.6 633.6 1136.9 632.1 1136 631C1135.1 629.9 1134 626.6 1134 625C1134 623.4 1135.4 619.6 1136 618C1136.6 616.4 1138.2 614.3 1138.5 612C1138.8 609.7 1138.1 602.5 1138 600C1137.9 597.5 1138.5 593.9 1138 592C1137.5 590.1 1134.9 586.9 1134 585C1133.1 583.1 1131.1 578.9 1131 577C1130.9 575.1 1131.9 571.5 1133 570C1134.1 568.5 1138.4 566.5 1140 565.5C1141.6 564.5 1144.9 562.1 1146 562Z" fill="#a11b9b"/>
<path d="M1134 660C1134.5 659 1137.9 653.4 1139 652C1140.1 650.6 1141.9 648.9 1143 649C1144.1 649.1 1146.7 651.6 1148 653C1149.3 654.4 1152.4 657.8 1153 660C1153.6 662.2 1152.7 667.8 1153 670C1153.3 672.2 1154.5 675.5 1155 677C1155.5 678.5 1157.1 680.7 1157 682C1156.9 683.3 1154.9 685.6 1154 687C1153.1 688.4 1150.5 691.4 1150 693C1149.5 694.6 1149.4 698.6 1150 700C1150.6 701.4 1154.9 703 1155 704C1155.1 705 1152.1 707.2 1151 708C1149.9 708.8 1147.4 709.6 1146 710C1144.6 710.4 1141.1 710.1 1140 711C1138.9 711.9 1137.5 715.1 1137 717C1136.5 718.9 1136.2 724.1 1136 726C1135.8 727.9 1136.1 730.4 1135.5 732C1134.9 733.6 1131.9 737.4 1131 739C1130.1 740.6 1128.9 743 1128.5 745C1128.1 747 1127.5 753 1127.5 755C1127.5 757 1128.4 759.2 1128.5 761C1128.6 762.8 1129.1 767.4 1128.5 769C1127.9 770.6 1125.1 772.5 1124 774C1122.9 775.5 1120.9 779.7 1120 781C1119.1 782.3 1118 783.7 1117 784C1116 784.3 1113.4 783.6 1112 783.5C1110.6 783.4 1107.8 783.3 1106 783.5C1104.2 783.7 1099.9 783.9 1098 785C1096.1 786.1 1092.1 790.1 1091 792C1089.9 793.9 1089.4 797.7 1089 800C1088.6 802.3 1088.1 807.6 1088 810C1087.9 812.4 1088.1 817.4 1088 819C1087.9 820.6 1087.8 822 1087 823C1086.2 824 1083.1 825.9 1082 827C1080.9 828.1 1078.5 830.4 1078 832C1077.5 833.6 1078.4 838 1078 840C1077.6 842 1075.4 846.1 1075 848C1074.6 849.9 1074.2 853.4 1075 855C1075.8 856.6 1080.4 859.6 1081 861C1081.6 862.4 1080.8 864.7 1080 866C1079.2 867.3 1076.4 870 1075 871C1073.6 872 1071.3 873.2 1069 873.5C1066.7 873.8 1058.9 872.2 1057 873C1055.1 873.8 1054.8 878.1 1054 880C1053.2 881.9 1051.6 886 1051 888C1050.4 890 1049.1 894.5 1049 896C1048.9 897.5 1049.4 898.2 1050 900C1050.6 901.8 1053.6 907.7 1054 910C1054.4 912.3 1053.6 916.1 1053 918C1052.4 919.9 1049.8 922.7 1049 925C1048.2 927.3 1047.3 933.7 1047 936C1046.7 938.3 1047.1 942.5 1046.5 943C1045.9 943.5 1043 941.1 1042 940C1041 938.9 1039.8 935.8 1039 934C1038.2 932.2 1036.9 927.3 1036 926C1035.1 924.7 1033.1 924.8 1032 924C1030.9 923.2 1027.5 921.3 1027 920C1026.5 918.7 1027.4 915.8 1028 914C1028.6 912.2 1031.7 907.8 1032 906C1032.3 904.2 1031.3 901.6 1030 900C1028.7 898.4 1023.8 894.8 1022 893C1020.2 891.2 1017.4 887 1016 886C1014.6 885 1011.9 885.6 1011 885C1010.1 884.4 1009.1 882 1009 881C1008.9 880 1009.4 877.9 1010 877C1010.6 876.1 1012.5 874.5 1014 874C1015.5 873.5 1020.6 873.5 1022 873C1023.4 872.5 1024 871.1 1025 870C1026 868.9 1028.2 864.6 1030 864C1031.8 863.4 1037.2 865.4 1039 865.5C1040.8 865.6 1042.7 865.7 1044 865C1045.3 864.3 1048.2 861.6 1049 860C1049.8 858.4 1050.4 853.8 1050 852C1049.6 850.2 1047.3 847.1 1046 846C1044.7 844.9 1041.5 842.9 1040 843C1038.5 843.1 1035.5 845.9 1034 847C1032.5 848.1 1029.5 852.3 1028 852C1026.5 851.7 1022.8 846.8 1022 845C1021.2 843.2 1021.5 839.8 1022 838C1022.5 836.2 1025.2 832.9 1026 831C1026.8 829.1 1028.2 824.8 1028.5 823C1028.8 821.2 1028.7 818.3 1028 817C1027.3 815.7 1025 813.6 1023 813C1021 812.4 1013.8 812.4 1012 812C1010.2 811.6 1009.8 810.9 1009 810C1008.2 809.1 1006.4 806.6 1006 805C1005.6 803.4 1005.5 798.8 1006 797C1006.5 795.2 1008.7 792.1 1010 791C1011.3 789.9 1014.2 788.8 1016 788C1017.8 787.2 1022.7 786.3 1024 785C1025.3 783.7 1025.4 779.5 1026 778C1026.6 776.5 1028 773.9 1029 773C1030 772.1 1032.6 770.9 1034 771C1035.4 771.1 1038.7 772.9 1040 774C1041.3 775.1 1043.5 778.2 1044 780C1044.5 781.8 1044.4 786 1044 788C1043.6 790 1040.7 793.8 1041 796C1041.3 798.2 1044.9 804.5 1046 805C1047.1 805.5 1049.1 801.9 1050 800C1050.9 798.1 1052.2 791.9 1053 790C1053.8 788.1 1054.4 787 1056 785C1057.6 783 1064.6 775.9 1066 774C1067.4 772.1 1066.8 772.7 1067 770C1067.2 767.3 1067.8 756 1067.5 753C1067.2 750 1065.3 747.9 1065 746C1064.7 744.1 1064.6 739.8 1065 738C1065.4 736.2 1067 733.8 1068 732C1069 730.2 1071.9 725.9 1073 724C1074.1 722.1 1075.7 718.8 1077 717C1078.3 715.2 1082.5 711.5 1083 710C1083.5 708.5 1081.1 706.1 1081 705C1080.9 703.9 1081.1 701.8 1082 701C1082.9 700.2 1087.1 698.1 1088 699C1088.9 699.9 1088.7 705.8 1089 708C1089.3 710.2 1090.3 713.5 1090 716C1089.7 718.5 1087.8 725.5 1087 728C1086.2 730.5 1084.3 733.7 1084 736C1083.7 738.3 1084.6 743.6 1085 746C1085.4 748.4 1086.7 752.6 1087 755C1087.3 757.4 1086.6 763.4 1087 765C1087.4 766.6 1089 767.2 1090 768C1091 768.8 1093.7 771.5 1095 771C1096.3 770.5 1098.6 765.3 1100 764C1101.4 762.7 1105 761.6 1106 761C1107 760.4 1107.4 759.6 1108 759C1108.6 758.4 1110.7 756.9 1111 756C1111.3 755.1 1110.6 753.3 1110.5 752C1110.4 750.7 1109.9 747.4 1110 746C1110.1 744.6 1110.7 741.8 1111.5 741C1112.3 740.2 1115 739.4 1116 739.5C1117 739.6 1118.1 741.3 1119 742C1119.9 742.7 1122.2 744.9 1123 745C1123.8 745.1 1125.2 743.8 1125.5 743C1125.8 742.2 1125.3 740.3 1125 739C1124.7 737.7 1123.8 733.7 1123 733C1122.2 732.3 1119.9 733.6 1119 733.5C1118.1 733.4 1116.6 732.8 1116 732C1115.4 731.2 1113.8 728 1114 727C1114.2 726 1117.1 725.3 1117.5 724C1117.9 722.7 1117.1 719.3 1117 717C1116.9 714.7 1116.4 708.5 1116.5 706C1116.6 703.5 1117 699 1118 697C1119 695 1122.9 691.9 1124 690C1125.1 688.1 1126.2 684 1127 682C1127.8 680 1129 675.6 1130 674C1131 672.4 1134.4 670.8 1135 669C1135.6 667.2 1135.1 661.1 1135 660C1134.9 658.9 1133.5 661 1134 660Z" fill="#a11b9b"/>
<path d="M1118.5 761C1118.9 760.4 1120.1 759.2 1121 759C1121.9 758.8 1124.7 759 1125.5 759.5C1126.3 760 1126.9 762 1127 763C1127.1 764 1126.5 766.2 1126 767C1125.5 767.8 1123.8 769 1123 769C1122.2 769 1120.1 767.6 1119.5 767C1118.9 766.4 1118.1 764.8 1118 764C1117.9 763.2 1118.1 761.6 1118.5 761Z" fill="#d6556d"/>
<path d="M1015 953C1015 951.5 1020.6 948.1 1022 948C1023.4 947.9 1025 951.5 1026 952.5C1027 953.5 1028.9 955.3 1030 956C1031.1 956.7 1034.2 957.2 1035 958C1035.8 958.8 1036.1 960.8 1036 962C1035.9 963.2 1034.9 967 1034 967.5C1033.1 968 1030.5 967 1029 966C1027.5 965 1023.8 961.6 1022 960C1020.2 958.4 1015 954.5 1015 953Z" fill="#a11b9b"/>
<path d="M1039 953C1039 952.2 1042 950.3 1043 950C1044 949.7 1046 950.2 1046.5 951C1047 951.8 1047.4 955.3 1047 956C1046.6 956.7 1044 956.9 1043 956.5C1042 956.1 1039 953.8 1039 953Z" fill="#a11b9b"/>
<path d="M1011 978C1012.3 977.9 1015.9 980 1017 981C1018.1 982 1019.6 984.5 1019.5 986C1019.4 987.5 1017 991.4 1016 993C1015 994.6 1012.6 999 1011.5 999C1010.4 999 1007.8 994.6 1007 993C1006.2 991.4 1005 987.5 1005 986C1005 984.5 1006.2 982.5 1007 981.5C1007.8 980.5 1009.7 978.1 1011 978Z" fill="#a11b9b"/>
<path d="M1014 1121C1014.6 1119.5 1017.9 1119.9 1019 1120C1020.1 1120.1 1022.1 1120.5 1022.5 1122C1022.9 1123.5 1023.3 1130 1022.5 1132C1021.7 1134 1017.5 1137.5 1016.5 1137.5C1015.5 1137.5 1014.8 1134.1 1014.5 1132C1014.2 1129.9 1013.4 1122.5 1014 1121Z" fill="#a11b9b"/>
<path d="M975.5 480C975.1 480.9 974.5 483.5 974.5 486C974.5 488.5 975.3 497.2 975.5 500C975.7 502.8 976.3 506 976 508C975.7 510 973.9 514.2 973 516C972.1 517.8 970.1 521.8 969 522C967.9 522.2 965.3 517.5 964.5 517.5C963.7 517.5 962.8 520.7 962.5 522C962.2 523.3 961.9 526.5 962 528C962.1 529.5 963.6 532.9 963.5 534C963.4 535.1 962.1 536 961 536.5C959.9 537 956.4 537.6 955 538C953.6 538.4 950.8 539.2 950 540C949.2 540.8 948.9 543 949 544C949.1 545 950.2 547.2 951 548C951.8 548.8 954.9 549.4 955 550C955.1 550.6 953.1 551.9 952 552.5C950.9 553.1 947.3 553.8 946 554.5C944.7 555.2 943.4 557.3 942 558C940.6 558.7 937 559.6 935 560C933 560.4 927.8 560.6 926 561C924.2 561.4 922 562.1 921 563C920 563.9 918.9 566.6 918.5 568C918.1 569.4 918.3 573 918 574C917.7 575 916.5 576.1 916 576C915.5 575.9 914.5 573.9 914 573C913.5 572.1 912.5 569.8 912 569C911.5 568.2 911 567.1 910 567C909 566.9 904.6 567.7 904 568.5C903.4 569.3 904.6 571.7 905 573C905.4 574.3 906.4 577.5 907 579C907.6 580.5 909.1 583.7 910 585C910.9 586.3 913 588.2 914 589C915 589.8 916.5 591.1 918 591.5C919.5 591.9 924.4 591.7 926 592C927.6 592.3 929.9 593.2 931 594C932.1 594.8 934.4 596.6 935 598C935.6 599.4 935.4 603.6 936 605C936.6 606.4 939.2 607.9 940 609C940.8 610.1 941.6 612.4 942 614C942.4 615.6 942.7 620 943 622C943.3 624 944 628.4 944 630C944 631.6 943.6 633.6 943 635C942.4 636.4 940 639.7 939 641C938 642.3 936.1 644.1 935 645C933.9 645.9 931.3 647.2 930 648C928.7 648.8 926 650.2 925 651C924 651.8 922.8 653 922 654C921.2 655 918.9 657.9 919 659C919.1 660.1 921.5 662.4 922.5 662.5C923.5 662.6 925.3 660.4 927 660C928.7 659.6 933.8 659.4 936 659C938.2 658.6 942 657.5 944 657C946 656.5 950.5 655.4 952 655C953.5 654.6 955.1 654.5 956 654C956.9 653.5 958 651.8 959 651C960 650.2 962.6 648.3 964 648C965.4 647.7 968.7 648.9 970 648.5C971.3 648.1 973 646 974 645C975 644 976.9 641.9 978 641C979.1 640.1 982.1 638.9 983 638C983.9 637.1 984.5 635 985 634C985.5 633 986.5 630.5 987 630C987.5 629.5 988.4 630.6 989 630C989.6 629.4 991.1 626.3 992 625C992.9 623.7 995 621.3 996 620C997 618.7 999.6 616 1000 615C1000.4 614 1000.1 612.8 999 612C997.9 611.2 991.1 609.9 991 609C990.9 608.1 997.6 606.6 998.5 605C999.4 603.4 997.8 597.9 998 596C998.2 594.1 999.4 591.4 1000 590C1000.6 588.6 1003 585.7 1002.5 585C1002 584.3 997.5 584.4 996 584.5C994.5 584.6 992.3 585.6 991 586C989.7 586.4 987.3 588 986 588C984.7 588 982.5 586.6 981 586C979.5 585.4 975.9 583.9 974 583C972.1 582.1 967.6 580.1 966 579C964.4 577.9 962.1 575.3 961 574C959.9 572.7 957.3 569.7 957 568.5C956.7 567.3 958 565.2 959 564.5C960 563.8 963.5 563.1 965 563C966.5 562.9 969.6 563 971 563.5C972.4 564 974.9 566.1 976 567C977.1 567.9 978.7 570.1 980 570.5C981.3 570.9 984.9 570.4 986 570C987.1 569.6 988.2 567.9 989 567C989.8 566.1 991.1 564.1 992 563C992.9 561.9 994.7 559.4 996 558C997.3 556.6 1000.6 553.5 1002 552C1003.4 550.5 1006.1 547.4 1007 546C1007.9 544.6 1008.4 542.1 1009 541C1009.6 539.9 1010.7 538.4 1011.5 537.5C1012.3 536.6 1014 535.1 1015 534C1016 532.9 1018.6 530.3 1019 529C1019.4 527.7 1019 525 1018.5 524C1018 523 1016.1 521.8 1015 521.5C1013.9 521.2 1011.3 521.6 1010 522C1008.7 522.4 1006.4 524.9 1005 525C1003.6 525.1 1000.4 523.8 999 523C997.6 522.2 995.1 520.4 994 519C992.9 517.6 990.8 513.3 990 512C989.2 510.7 988.2 509.9 987.8 509C987.4 508.1 986.8 506.1 986.6 505C986.4 503.9 986.4 501.1 986.5 500C986.6 498.9 987 497.3 987 496C987 494.7 986.8 491.5 986.5 490C986.2 488.5 985.7 485.3 985 484C984.3 482.7 981.9 480.7 981 480C980.1 479.3 978.7 478.5 978 478.5C977.3 478.5 975.9 479.1 975.5 480Z" fill="#f89540"/>
<path d="M951 620C951.4 619.1 953.9 618.1 955 618C956.1 617.9 958.9 618.6 960 619C961.1 619.4 962.9 620.9 964 621C965.1 621.1 967.7 620.4 969 620C970.3 619.6 972.9 617.9 974 618C975.1 618.1 977.7 619.5 978 620.5C978.3 621.5 976.8 624.7 976 626C975.2 627.3 973.1 629.7 972 631C970.9 632.3 968.1 635 967 636C965.9 637 964.5 639.1 963.5 639C962.5 638.9 960.2 636.1 959 635C957.8 633.9 954.9 631.3 954 630C953.1 628.7 952.4 626.3 952 625C951.6 623.7 950.6 620.9 951 620Z" fill="#ea7457"/>
<path d="M921.5 580 L923 578.5 L927.5 580 L926 581Z" fill="#ea7457"/>
<path d="M886 579C887 578.6 889.9 580.2 891 581C892.1 581.8 894 583.7 894.5 585C895 586.3 894.6 589.7 895 591C895.4 592.3 897.3 593.9 898 595C898.7 596.1 900.2 598.6 900.5 600C900.8 601.4 900.4 604.7 900 606C899.6 607.3 897.5 609 897.5 610C897.5 611 899.6 612.7 900 614C900.4 615.3 900.8 618 901 620C901.2 622 901.4 628.4 901.5 630C901.6 631.6 901.6 632 901.5 633C901.4 634 900.9 636.8 900.5 638C900.1 639.2 899.3 642.3 898.5 642.5C897.7 642.7 895.1 640.3 894 639.5C892.9 638.7 890.9 636.9 890 636.5C889.1 636.1 887.8 635.7 887 636C886.2 636.3 884.5 638.1 883.5 639C882.5 639.9 880.2 641.9 879.5 643C878.8 644.1 877.6 646.4 878 647.5C878.4 648.6 881.9 651 883 652C884.1 653 886 654.7 887 655C888 655.3 890 654 891 654C892 654 893.9 654.4 894.5 655C895.1 655.6 896.1 657.7 896 659C895.9 660.3 893.6 664 894 665C894.4 666 898 666.4 899 667C900 667.6 901 668.9 901.5 670C902 671.1 902.6 674.6 903 676C903.4 677.4 905 680 905 681C905 682 903.6 683.2 903 684C902.4 684.8 901 686.4 900 687C899 687.6 896.1 688.5 895 689C893.9 689.5 891.8 690.2 891 691C890.2 691.8 889.4 693.9 889 695C888.6 696.1 888.3 699 888 700C887.7 701 887.3 703 887 703C886.7 703 886.1 700.9 885.5 700C884.9 699.1 883 697 882 696C881 695 878.5 693 877.5 692C876.5 691 874.9 689 874 688C873.1 687 871.1 685.4 870.5 684C869.9 682.6 869.6 678.5 869.5 677C869.4 675.5 870 673.5 870 672C870 670.5 869.9 666.5 869.5 665C869.1 663.5 867.4 661.4 867 660C866.6 658.6 865.8 655.5 866 654C866.2 652.5 867.9 650.3 868.5 648C869.1 645.7 870.5 638.3 871 636C871.5 633.7 872.1 631.4 872.5 630C872.9 628.6 873.7 626.3 874 625C874.3 623.7 874.6 621.4 875 620C875.4 618.6 876.7 615.4 877 614C877.3 612.6 877.1 610.1 877.5 609C877.9 607.9 879.7 606.1 880.5 605C881.3 603.9 883.4 601.3 884 600C884.6 598.7 885.5 596.3 885.5 595C885.5 593.7 884.3 591.4 884 590C883.7 588.6 883.2 585.4 883.5 584C883.8 582.6 885 579.4 886 579Z" fill="#f89540"/>
<path d="M929.5 552C929.8 551.5 932.2 550 933 550C933.8 550 935.7 551.4 936 552C936.3 552.6 935.6 554.2 935 554.5C934.4 554.8 931.7 554.3 931 554C930.3 553.7 929.2 552.5 929.5 552Z" fill="#f89540"/>
<path d="M992 574 L995 574 L995 576 L992 576Z" fill="#f89540"/>
<path d="M915 670 L917.5 669 L917.5 671.5 L916 672.5Z" fill="#f89540"/>
<path d="M886 714 L888 714 L888 717 L886 717Z" fill="#f89540"/>
<path d="M887 736C887.6 736.3 889.6 740 890 741C890.4 742 890.8 742.5 890.5 743.5C890.2 744.5 888.6 748.4 888 749C887.4 749.6 886.5 748.8 886 748C885.5 747.2 884.1 744.2 884 743C883.9 741.8 885.1 739.4 885.5 738.5C885.9 737.6 886.4 735.7 887 736Z" fill="#f89540"/>
<path d="M892.5 750 L894 754 L893 759.5 L890.5 755Z" fill="#f89540"/>
<path d="M900.5 765C901.5 765.5 902.9 768.6 903.5 770C904.1 771.4 905.2 774.6 905.5 776C905.8 777.4 905.4 779.9 906 781C906.6 782.1 908.7 784 910 785C911.3 786 914.5 788.4 916 788.5C917.5 788.6 920.5 786.3 922 786C923.5 785.7 926.7 786.1 928 786.5C929.3 786.9 931.1 788.1 932 789C932.9 789.9 935.3 792.5 935 793.5C934.7 794.5 931.5 795.9 930 796.5C928.5 797.1 924.4 797.4 923 798C921.6 798.6 919.6 800.1 919 801C918.4 801.9 918.1 804.1 918.5 805C918.9 805.9 921.9 806.6 922.5 808C923.1 809.4 922.2 814.9 923 816C923.8 817.1 927.8 816.4 929 817C930.2 817.6 932.4 819.7 932.5 821C932.6 822.3 930.7 825.6 930 827C929.3 828.4 927.3 830.4 927 832C926.7 833.6 928 837.7 928 840C928 842.3 927.3 847.5 927 850C926.7 852.5 926.1 857.5 926 860C925.9 862.5 925.6 868.1 926 870C926.4 871.9 928.6 873.5 929 875C929.4 876.5 929.8 880.1 929.5 882C929.2 883.9 927.7 888.1 927 890C926.3 891.9 924.6 895.4 924 897C923.4 898.6 923.3 902.9 922.5 903C921.7 903.1 919.1 899.3 918 898C916.9 896.7 914.5 894.1 913.5 893C912.5 891.9 911.5 889.3 910.5 889C909.5 888.7 906.8 890 906 891C905.2 892 904.8 895.7 904 897C903.2 898.3 901.1 900.1 900 901C898.9 901.9 896.5 903.2 895 904C893.5 904.8 889.4 906.2 888 907C886.6 907.8 884.8 908.9 884 910C883.2 911.1 882.5 915.1 882 916C881.5 916.9 880.5 917.8 880 917C879.5 916.2 878.1 911.9 878 910C877.9 908.1 878.7 903.6 879 902C879.3 900.4 879.6 897.6 880.5 897C881.4 896.4 884.5 897.3 886 897C887.5 896.7 890.9 895.4 892 894.5C893.1 893.6 895.1 891 895 890C894.9 889 891.9 887.5 891.5 886.5C891.1 885.5 891.2 883.1 891.5 882C891.8 880.9 893.9 879 894 878C894.1 877 893 874.5 892.5 874.5C892 874.5 891 877 890 878C889 879 886.1 881 885 882C883.9 883 881.8 886.1 881 886C880.2 885.9 879 882.3 879 881C879 879.7 880.3 877.5 881 876C881.7 874.5 883.9 870.5 884.5 869C885.1 867.5 885.2 865.5 886 864C886.8 862.5 890.1 858.8 891 857C891.9 855.2 892.6 852.2 893 850C893.4 847.8 893.4 842.3 894 840C894.6 837.7 897.2 833.7 898 832C898.8 830.3 900.4 828 900.5 826.5C900.6 825 899.4 821.7 899 820C898.6 818.3 897.3 814.9 897 813C896.7 811.1 896.5 807.3 896.5 805C896.5 802.7 897 797.5 897 795C897 792.5 896.8 787.4 896.5 785C896.2 782.6 895.2 777.9 895 776C894.8 774.1 894.9 771.3 895 770C895.1 768.7 895.3 766.6 896 766C896.7 765.4 899.5 764.5 900.5 765Z" fill="#f89540"/>
<path d="M895 870 L898.5 868 L901 870.5 L898.5 872Z" fill="#ea7457"/>
<path d="M895 883C895.2 882.2 897.7 880.9 898.5 881C899.3 881.1 900.7 883.2 901 884C901.3 884.8 901.5 887.1 901 887.5C900.5 887.9 897.8 888.1 897 887.5C896.2 886.9 894.8 883.8 895 883Z" fill="#ea7457"/>
<path d="M916.5 904C917 903.6 918.6 904.8 919 905.5C919.4 906.2 919.8 908.7 919.5 909.5C919.2 910.3 917.1 912.1 916.5 912C915.9 911.9 915 909.5 915 908.5C915 907.5 916 904.4 916.5 904Z" fill="#f89540"/>
<path d="M845.5 915C845.9 915 846.9 916.9 847 918C847.1 919.1 846.1 922.6 846.5 924C846.9 925.4 848.5 928.3 850 929C851.5 929.7 856.5 930.1 858 929.5C859.5 928.9 860.7 925.5 862 924.5C863.3 923.5 866.7 922.1 868 921.5C869.3 920.9 871.1 919.9 872 919.5C872.9 919.1 874.2 917.9 875 918C875.8 918.1 878.5 919.7 878.5 920.5C878.5 921.3 875.7 923.1 875 924C874.3 924.9 873.4 926 873 927.5C872.6 929 872 934.4 872 936C872 937.6 872.6 939.1 873 940C873.4 940.9 874.1 942.9 875 943C875.9 943.1 878.6 940.9 880 940.5C881.4 940.1 884.8 940 886 939.5C887.2 939 889.1 937.7 889.5 936.5C889.9 935.3 888.6 931.3 889 930C889.4 928.7 891.9 927.1 893 926.5C894.1 925.9 896.4 926 897.5 925.5C898.6 925 900.8 923.3 902 922.5C903.2 921.7 905.9 919.7 907 919C908.1 918.3 909.9 917 910.5 917C911.1 917 911.9 917.9 912 919C912.1 920.1 911.9 924.1 911.5 926C911.1 927.9 909.6 932 909 934C908.4 936 907.4 940.2 907 942C906.6 943.8 906.4 946.6 906 948C905.6 949.4 904.3 951.5 904 953C903.7 954.5 904.5 958.5 904 960C903.5 961.5 901.4 963.8 900 964.5C898.6 965.2 894.2 964.8 893 965.5C891.8 966.2 891.1 968.9 890.5 970C889.9 971.1 889.1 973.4 888 974.5C886.9 975.6 883.6 977.8 882 979C880.4 980.2 876.5 983.7 875 984C873.5 984.3 871.3 982.5 870 981.5C868.7 980.5 866 977.1 865 976C864 974.9 862.9 973.8 862 973C861.1 972.2 859.6 970 858 969.5C856.4 969 850.6 968.7 849 969C847.4 969.3 846.3 971.2 845.5 972C844.7 972.8 843.8 974.4 843 975C842.2 975.6 839.9 976.4 839 977C838.1 977.6 836.3 979.2 836 980C835.7 980.8 836.6 982.2 837 983C837.4 983.8 839.8 985 839.5 986C839.2 987 835.8 990.5 835 991C834.2 991.5 833.5 990.8 833 990C832.5 989.2 831.5 986.3 831 985C830.5 983.7 829.3 981.3 829 980C828.7 978.7 829.1 975.5 828.5 975C827.9 974.5 824.9 975.2 824.5 976C824.1 976.8 826.3 980.1 825.5 981C824.7 981.9 819.5 982.5 818 983C816.5 983.5 815 984.4 814 985C813 985.6 811 987.6 810 988C809 988.4 806.6 988.3 806 988C805.4 987.7 805.3 987.5 805 986C804.7 984.5 804.1 978.3 804 976C803.9 973.7 804.2 969.6 804.5 968C804.8 966.4 805.2 964.1 806 963C806.8 961.9 809.4 958.7 810.5 959C811.6 959.3 814.7 963.7 815 965C815.3 966.3 813.2 967.9 813 969C812.8 970.1 813.1 972.9 813.5 974C813.9 975.1 815 977.4 816 977.5C817 977.6 820.6 975.5 821 974.5C821.4 973.5 819.4 971.2 819 970C818.6 968.8 817.7 966 818 965C818.3 964 820.2 962.9 821 962C821.8 961.1 823.4 959.3 824.5 958C825.6 956.7 829 953.5 830 952C831 950.5 831.7 947.5 832.5 946C833.3 944.5 835.2 941.4 836 940C836.8 938.6 837.6 936.1 838.5 935C839.4 933.9 842.3 932.4 843 931C843.7 929.6 843.9 925.6 844 924C844.1 922.4 843.8 919.1 844 918C844.2 916.9 845.1 915 845.5 915Z" fill="#f89540"/>
<path d="M863 1068C864 1067.9 865.9 1069 867 1069.5C868.1 1070 870.7 1071.4 872 1072C873.3 1072.6 875.7 1073.9 877 1074C878.3 1074.1 880.7 1073.3 882 1073C883.3 1072.7 886 1071.7 887 1072C888 1072.3 889.1 1073.6 889.5 1075C889.9 1076.4 890.6 1081.1 890.5 1083C890.4 1084.9 889 1088.4 888.5 1090C888 1091.6 886.8 1094.2 886.5 1096C886.2 1097.8 886.6 1102.2 886 1104C885.4 1105.8 883.3 1108.7 882 1110C880.7 1111.3 877.3 1113.1 876 1114C874.7 1114.9 872.8 1116.1 872 1117C871.2 1117.9 869.9 1119.7 870 1121C870.1 1122.3 871.7 1125.5 872.5 1127C873.3 1128.5 875.2 1131.5 876 1133C876.8 1134.5 878.4 1137.9 879 1139C879.6 1140.1 880.1 1141.7 881 1142C881.9 1142.3 884.5 1141.1 886 1141C887.5 1140.9 891.4 1140.7 893 1141C894.6 1141.3 897.4 1142 898.5 1143C899.6 1144 901.4 1147.1 901.5 1148.5C901.6 1149.9 900.2 1152.7 899.5 1154C898.8 1155.3 897 1157.9 896 1159C895 1160.1 893.4 1162.2 892 1163C890.6 1163.8 886.9 1164.6 885 1165C883.1 1165.4 878.8 1166.4 877 1166.5C875.2 1166.6 872.6 1166.3 871 1166C869.4 1165.7 865.4 1163.9 864 1164C862.6 1164.1 861 1166.6 860 1167C859 1167.4 857.3 1167.8 856 1167.5C854.7 1167.2 851.8 1165.6 850 1165C848.2 1164.4 843.8 1163.6 842 1163C840.2 1162.4 837 1161 836 1160C835 1159 834.1 1156.3 834 1155C833.9 1153.7 835 1151.2 835.5 1150C836 1148.8 837.4 1146.3 838 1145.5C838.6 1144.7 840.5 1144.3 840 1143.5C839.5 1142.7 835.5 1140.1 834 1139C832.5 1137.9 830.3 1135.1 828 1134.5C825.7 1133.9 817.9 1133.6 816 1134C814.1 1134.4 813.8 1136.5 813 1137.5C812.2 1138.5 811.2 1141 810 1141.5C808.8 1142 804.8 1142.1 803.5 1141.5C802.2 1140.9 800.3 1138.1 799.5 1137C798.7 1135.9 797.8 1134.1 797.5 1133C797.2 1131.9 797.8 1129.3 797.5 1128C797.2 1126.7 795.8 1124.3 795.5 1123C795.2 1121.7 794.7 1119.1 795 1118C795.3 1116.9 796.6 1115 797.5 1114C798.4 1113 801.3 1111.3 802 1110C802.7 1108.7 802.6 1105.3 803 1104C803.4 1102.7 804.2 1101 805 1100C805.8 1099 808 1096.9 809 1096.5C810 1096.1 812.1 1096.3 813 1096.5C813.9 1096.7 815.1 1098.2 816 1098C816.9 1097.8 819 1095.3 820 1095C821 1094.7 823.1 1095.5 824 1096C824.9 1096.5 827 1098.2 827 1099C827 1099.8 824.6 1101.2 824 1102C823.4 1102.8 821.9 1104.6 822 1105C822.1 1105.4 824.5 1105.9 825 1105.5C825.5 1105.1 825.6 1102.7 826 1102C826.4 1101.3 827.4 1100.5 828 1100C828.6 1099.5 830 1098.5 831 1098C832 1097.5 834.7 1096.5 836 1096C837.3 1095.5 840.3 1094.9 841 1094C841.7 1093.1 840.9 1089.8 841.5 1089C842.1 1088.2 844.7 1088.3 846 1088C847.3 1087.7 850.6 1087.3 852 1086.5C853.4 1085.7 856.2 1083.3 857 1082C857.8 1080.7 858.1 1077.1 858 1076C857.9 1074.9 855.9 1073.8 856 1073C856.1 1072.2 858.1 1070.6 859 1070C859.9 1069.4 862 1068.1 863 1068Z" fill="#f89540"/>
<path d="M812 1090C812 1089.2 814.6 1087.6 816 1087C817.4 1086.4 821.2 1085.4 823 1085C824.8 1084.6 828.7 1083.6 830 1084C831.3 1084.4 833.2 1087.5 833.5 1088.5C833.8 1089.5 833 1091.2 832 1092C831 1092.8 827.5 1094.7 826 1095C824.5 1095.3 821.3 1094.8 820 1094.5C818.7 1094.2 817 1093.6 816 1093C815 1092.4 812 1090.8 812 1090Z" fill="#f89540"/>
<path d="M797 1084C797.6 1083 800.9 1082.2 802 1082C803.1 1081.8 805.1 1082 805.5 1082.5C805.9 1083 805.9 1085.2 805.5 1086C805.1 1086.8 802.8 1088.2 802 1089C801.2 1089.8 799.9 1091.2 799.5 1092C799.1 1092.8 798.8 1095.8 798.5 1095.5C798.2 1095.2 797.4 1091.5 797.2 1090C797 1088.5 796.4 1085 797 1084Z" fill="#f89540"/>
<path d="M806 1073 L811 1072 L815 1073.5 L811 1075Z" fill="#f89540"/>
<path d="M932 1150C932.7 1149 934.9 1146.6 936 1146C937.1 1145.4 939.9 1145 941 1145.5C942.1 1146 943.4 1148.9 944.5 1150C945.6 1151.1 948.9 1153 950 1154C951.1 1155 952.8 1156.9 953 1158C953.2 1159.1 952.1 1162 951.5 1163C950.9 1164 948.8 1165.1 948 1166C947.2 1166.9 945.5 1169 945 1170C944.5 1171 944 1173.3 944 1174C944 1174.7 945.5 1175 945 1175.5C944.5 1176 941.3 1178.1 940 1178C938.7 1177.9 935.9 1176.3 935 1175C934.1 1173.7 933.4 1169.9 933 1168C932.6 1166.1 932.3 1161.8 932 1160C931.7 1158.2 930.5 1155.3 930.5 1154C930.5 1152.7 931.3 1151 932 1150Z" fill="#f89540"/>
<path d="M786 975C786.9 973.9 790.9 972.7 792 973C793.1 973.3 794.7 975.5 795 977C795.3 978.5 794.9 983.9 794 985C793.1 986.1 789.1 986.4 788 986C786.9 985.6 785.3 983.4 785 982C784.7 980.6 785.1 976.1 786 975Z" fill="#f89540"/>
<path d="M920 529C921.1 528.2 924.1 528.3 926 528C927.9 527.7 934.4 526.6 935 527C935.6 527.4 932 529.9 931 531C930 532.1 927.8 534.9 927 536C926.2 537.1 925.6 539.3 925 540C924.4 540.7 922.9 541.6 922 541.5C921.1 541.4 918.6 540 918 539C917.4 538 916.7 535.3 917 534C917.3 532.7 918.9 529.8 920 529Z" fill="#d6556d"/>
<path d="M885.5 540.5 L888 540 L889 542 L886.5 543Z" fill="#d6556d"/>
<path d="M899 701C900.1 700.6 903.5 700.9 905 701C906.5 701.1 910 701.6 911 702C912 702.4 913.4 703.6 913 704.5C912.6 705.4 908.9 707.7 908 709C907.1 710.3 906.1 713.5 906 715C905.9 716.5 907.2 719.6 907.5 721C907.8 722.4 908.3 725.1 908 726C907.7 726.9 905.8 727.9 905 728C904.2 728.1 902.2 727.3 901.5 726.5C900.8 725.7 899.9 723.3 899.5 722C899.1 720.7 898.9 717.6 898.5 716C898.1 714.4 896.3 710.5 896 709C895.7 707.5 896.1 705.5 896.5 704.5C896.9 703.5 897.9 701.4 899 701Z" fill="#d6556d"/>
<path d="M845 1034C845.4 1033.1 848.1 1031 849 1030.5C849.9 1030 851.5 1029.6 852 1030C852.5 1030.4 853 1033 853 1034C853 1035 852.9 1037.1 852 1037.5C851.1 1037.9 846.9 1037.9 846 1037.5C845.1 1037.1 844.6 1034.9 845 1034Z" fill="#d6556d"/>
<path d="M808 1024 L810.5 1023 L812 1025 L809.5 1026Z" fill="#d6556d"/>
<path d="M745.5 205C746.1 204.4 749 203.6 750 203.5C751 203.4 752.7 203.5 753.5 204C754.3 204.5 755.4 206.7 756 207.5C756.6 208.3 757.9 209.4 758.5 210.5C759.1 211.6 760.1 214.4 760.5 216C760.9 217.6 761.1 221.5 761.5 223C761.9 224.5 762.7 227.2 763.5 228C764.3 228.8 767.3 228.4 768 229C768.7 229.6 769 231.9 769 233C769 234.1 768.4 236.5 768 237.5C767.6 238.5 766.1 240.2 765.5 241C764.9 241.8 763.6 243 763 243.5C762.4 244 761.1 244.6 760.5 244.8C759.9 245 758.6 245.4 758 245C757.4 244.6 756.3 242.7 755.5 242C754.7 241.3 753.1 239.9 752 239.5C750.9 239.1 748 239 747 238.5C746 238 745 236.2 744.5 235.5C744 234.8 743.3 233.7 743 233C742.7 232.3 742.4 230.7 742.5 230C742.6 229.3 743.2 228.3 743.5 227.5C743.8 226.7 744.4 225.2 744.5 224C744.6 222.8 744.4 219.5 744.5 218C744.6 216.5 744.9 213.3 745 212C745.1 210.7 744.9 208.9 745 208C745.1 207.1 744.9 205.6 745.5 205Z" fill="#d6556d"/>
<path d="M751 224.5C751.6 224.4 752.9 226.2 753.5 227C754.1 227.8 755.4 230 756 231C756.6 232 757.7 234.1 758 235C758.3 235.9 758.4 237.5 758 238C757.6 238.5 755.8 239.1 755 239C754.2 238.9 752.8 237.5 752 237C751.2 236.5 749.7 235.7 749 235C748.3 234.3 746.6 232.4 746.5 231.5C746.4 230.6 747.9 228.4 748.5 227.5C749.1 226.6 750.4 224.6 751 224.5Z" fill="#bf3984"/>
<path d="M772 267.5C772.4 267.1 774 267 775 267.2C776 267.4 778.9 268.6 780 269.2C781.1 269.8 783 271.5 784 272.2C785 272.9 786.9 274.2 787.5 274.7C788.1 275.2 788.6 276.2 788.5 276.5C788.4 276.8 787.8 277.2 787 277.2C786.2 277.2 783.1 277 782 276.8C780.9 276.6 779 276 778 275.8C777 275.6 774.9 275.6 774.2 275.2C773.5 274.8 773.1 273.2 772.8 272.5C772.5 271.8 771.9 270.6 771.8 270C771.7 269.4 771.6 267.9 772 267.5Z" fill="#d6556d"/>
<path d="M818 263C818.4 262.5 822 263.4 823 263C824 262.6 825.2 260.9 826 260C826.8 259.1 828.1 256.2 829 255.5C829.9 254.8 832.2 254.2 833 254.5C833.8 254.8 834.4 256.9 835 258C835.6 259.1 837.4 261.7 838 263C838.6 264.3 839.4 266.7 839.5 268C839.6 269.3 838.9 271.8 838.5 273C838.1 274.2 836.8 277.1 836 277.5C835.2 277.9 833 276.3 832 276C831 275.7 829 275.6 828 275C827 274.4 825 272 824 271C823 270 820.8 268 820 267C819.2 266 817.6 263.5 818 263Z" fill="#d6556d"/>
<path d="M877.5 296.5C878.4 296.3 880.9 299.3 882 300C883.1 300.7 885.2 301.4 886 302C886.8 302.6 888.2 304 888.5 305C888.8 306 888.3 308.7 888 310C887.7 311.3 886.4 313.7 886 315C885.6 316.3 885.1 319.2 884.5 320C883.9 320.8 881.7 321.6 881 321.5C880.3 321.4 879.4 319.8 879 319C878.6 318.2 878 316.1 878 315C878 313.9 879.1 311.1 879 310C878.9 308.9 878 307.1 877.5 306C877 304.9 875 302.7 875 301.5C875 300.3 876.6 296.7 877.5 296.5Z" fill="#d6556d"/>
<path d="M1108 346.5 L1110.5 344 L1112.5 346.5 L1110.5 348.5Z" fill="#d6556d"/>
<path d="M1070.5 421.5C1070.8 420.6 1073 418.3 1074 417.5C1075 416.7 1076.9 415.3 1078 415C1079.1 414.7 1082.3 414.7 1083 415C1083.7 415.3 1083.9 416.9 1083.5 417.5C1083.1 418.1 1081 419.2 1080 420C1079 420.8 1077 422.9 1076 423.5C1075 424.1 1072.7 425.3 1072 425C1071.3 424.7 1070.2 422.4 1070.5 421.5Z" fill="#d6556d"/>
<path d="M1169.5 288C1170.3 286.9 1173.6 284.7 1175 285C1176.4 285.3 1179.7 288.7 1180.5 290C1181.3 291.3 1181.4 293.7 1181 295C1180.6 296.3 1178.1 300 1177 300.5C1175.9 301 1173 299.8 1172 299C1171 298.2 1169.3 295.4 1169 294C1168.7 292.6 1168.7 289.1 1169.5 288Z" fill="#bf3984"/>
<path d="M1109 410.5 L1111 408.5 L1113.5 410.5 L1111.5 413.5Z" fill="#ea7457"/>
<path d="M834 557.5C834 556.9 838.5 556.1 840 556C841.5 555.9 844.8 556.1 846 556.5C847.2 556.9 848.9 558.2 849.5 559C850.1 559.8 850.9 562.2 850.5 562.5C850.1 562.8 847.3 561.8 846 561.5C844.7 561.2 841.5 561 840 560.5C838.5 560 834 558.1 834 557.5Z" fill="#d6556d"/>
<path d="M833.5 574.5 L836 574 L835.5 576 L833.8 576.5Z" fill="#d6556d"/>
<path d="M824 608.5 L827.5 606 L830 609 L827.5 611.5Z" fill="#d6556d"/>
<path d="M885 541 L887 540 L889 541.5 L887 543.2Z" fill="#d6556d"/>
<path d="M846 702C846.6 701.2 850.2 702 851 703C851.8 704 851.7 708.5 852.5 710C853.3 711.5 856.2 713.5 857 715C857.8 716.5 858.3 720.2 859 722C859.7 723.8 862 727.2 862.5 729C863 730.8 863.4 735.7 863 736.5C862.6 737.3 860 735.7 859 735C858 734.3 855.9 732.4 855 731C854.1 729.6 852.5 725.8 852 724C851.5 722.2 851.5 718.5 851 717C850.5 715.5 848.6 713 848 712C847.4 711 846.3 710.3 846 709C845.7 707.7 845.4 702.8 846 702Z" fill="#d6556d"/>
<path d="M863 740C863.1 738.1 863.8 738.7 864.2 740C864.6 741.3 865.8 748.1 866 750C866.2 751.9 866.4 754.4 866 755C865.6 755.6 863.6 756.9 863.2 755C862.8 753.1 862.9 741.9 863 740Z" fill="#d6556d"/>
<path d="M827 760.5C827.3 759.3 831.9 754.3 833 754C834.1 753.7 835.8 756.9 836 758C836.2 759.1 835.1 762.3 834.5 763C833.9 763.7 832 763.8 831 763.5C830 763.2 826.7 761.7 827 760.5Z" fill="#d6556d"/>
<path d="M832 771C832.1 770.2 833.2 769.6 834 770C834.8 770.4 837.1 773.1 838 774C838.9 774.9 840.7 776 841 777C841.3 778 840.6 781.5 840 782C839.4 782.5 836.9 781.8 836 781C835.1 780.2 833.5 777.3 833 776C832.5 774.7 831.9 771.8 832 771Z" fill="#d6556d"/>
<path d="M834.5 783.5C835.3 782.9 838.2 782.3 839 783C839.8 783.7 840.1 788.1 841 789C841.9 789.9 844.7 789.8 846 790C847.3 790.2 850 790 851 790.5C852 791 853.7 792.8 854 794C854.3 795.2 854.1 798.9 853.5 800C852.9 801.1 850.2 802.1 849 803C847.8 803.9 845.6 806.4 844 807C842.4 807.6 837.3 807.5 836 808C834.7 808.5 834.3 811.1 834 811C833.7 810.9 833.8 808.4 833.5 807C833.2 805.6 831.9 801.3 832 800C832.1 798.7 833.8 797.4 834 796.5C834.2 795.6 833.7 794.1 833.5 793C833.3 791.9 832.4 789.2 832.5 788C832.6 786.8 833.7 784.1 834.5 783.5Z" fill="#d6556d"/>
<path d="M827.5 814.5C828 813.9 830.1 813.4 831 813C831.9 812.6 833.5 810.7 834.5 811C835.5 811.3 838.4 814.4 838.5 815.5C838.6 816.6 836.1 818.5 835.5 819.5C834.9 820.5 834.2 821.9 834 823C833.8 824.1 832.6 827.9 834 828.5C835.4 829.1 843.9 828.7 845 828C846.1 827.3 843.6 824.3 843 823C842.4 821.7 840.8 819 840.5 818C840.2 817 840.4 815.6 841 815C841.6 814.4 844 812.9 845 813C846 813.1 848.2 814.9 849 816C849.8 817.1 851.1 820.4 851.5 822C851.9 823.6 851.9 827.5 852 829C852.1 830.5 851.6 832.8 852 834C852.4 835.2 855 837.4 855 838.5C855 839.6 852.4 841.8 852 843C851.6 844.2 852.8 847.1 852 848C851.2 848.9 847 849 846 850C845 851 844.9 854.7 844.5 856C844.1 857.3 843.7 859 843 860C842.3 861 839.8 862.9 839 864C838.2 865.1 837.8 867.7 837 869C836.2 870.3 833.8 873 833 874C832.2 875 831.9 876 831 877C830.1 878 827.3 880.7 826 882C824.7 883.3 821.8 885.7 821 887C820.2 888.3 820.6 891 820 892C819.4 893 817.3 894.4 816 895C814.7 895.6 811.5 896.3 810 897C808.5 897.7 805.1 899.5 804 900.5C802.9 901.5 801.4 903.8 801 905C800.6 906.2 800.7 909 801 910C801.3 911 802.5 912.2 803 913C803.5 913.8 805 915.4 805 916C805 916.6 803.8 917.5 803 917.5C802.2 917.5 800 915.8 799 916C798 916.2 796 918.1 795 919C794 919.9 792 922.2 791 923C790 923.8 787.6 925.6 787 925.5C786.4 925.4 786.3 922.9 786 922C785.7 921.1 785 919.4 785 918.5C785 917.6 785.6 916.2 786 915C786.4 913.8 787.5 910.8 788 909C788.5 907.2 789.6 902.8 790 901C790.4 899.2 790.5 896.5 791 895C791.5 893.5 793.2 890.3 794 889C794.8 887.7 796.1 885.3 797 884.5C797.9 883.7 800.1 883.8 801 883C801.9 882.2 803.4 879.3 804 878C804.6 876.7 805.6 874.3 806 873C806.4 871.7 806.6 869.1 807 868C807.4 866.9 808.4 865.4 809 864.5C809.6 863.6 811 861.9 812 861C813 860.1 815.9 858.4 816.5 857.5C817.1 856.6 816.3 855 816.5 854C816.7 853 817.4 851.2 818 850C818.6 848.8 820.2 845.8 821 844.5C821.8 843.2 823.1 841 824 840C824.9 839 827 837.5 828 836.5C829 835.5 831.3 833.6 832 832.5C832.7 831.4 833.4 829.2 833.5 828C833.6 826.8 833.4 824 833 823C832.6 822 831.3 820.7 830.5 820C829.7 819.3 827.4 818.2 827 817.5C826.6 816.8 827 815.1 827.5 814.5Z" fill="#d6556d"/>
<path d="M761.5 947.5 L764.5 946.5 L765 952 L762.5 953.5Z" fill="#d6556d"/>
<path d="M748 993C748.6 992.2 750 991 751 990.5C752 990 754.9 988.9 756 989C757.1 989.1 759 989.9 759.5 991C760 992.1 759.9 996.4 760 998C760.1 999.6 760.1 1002.6 760.5 1004C760.9 1005.4 762.4 1007.7 763 1009C763.6 1010.3 765 1012.6 765.5 1014C766 1015.4 766.6 1018.2 767 1020C767.4 1021.8 767.6 1027.2 768.5 1028C769.4 1028.8 772.3 1027.1 774 1026.5C775.7 1025.9 780.1 1024.5 782 1023.5C783.9 1022.5 787.6 1020.2 789 1019C790.4 1017.8 792.1 1014.3 793 1014C793.9 1013.7 795.4 1016.2 796 1017C796.6 1017.8 797.9 1018.9 798 1020C798.1 1021.1 797.3 1024.1 797 1026C796.7 1027.9 796.1 1032.6 796 1035C795.9 1037.4 795.8 1042.8 796 1045C796.2 1047.2 797.2 1050.5 797.5 1052C797.8 1053.5 798.7 1056.1 798 1057C797.3 1057.9 793.5 1058.5 792 1059C790.5 1059.5 787.3 1060.5 786 1061C784.7 1061.5 782.5 1063.3 781.5 1063C780.5 1062.7 779 1060.3 778 1059C777 1057.7 774.8 1054.6 774 1053C773.2 1051.4 772.1 1047.5 771.5 1046C770.9 1044.5 770.1 1041.4 769.5 1041C768.9 1040.6 767.7 1042.4 767 1043C766.3 1043.6 764.8 1045.2 764 1045.5C763.2 1045.8 761.4 1045.9 760.5 1045.5C759.6 1045.1 757.9 1043 757 1042C756.1 1041 754.2 1039 753.5 1038C752.8 1037 751.9 1035.3 751.5 1034C751.1 1032.7 750.9 1029.5 750.5 1028C750.1 1026.5 748.5 1023.4 748 1022C747.5 1020.6 746.6 1018.4 746.5 1017C746.4 1015.6 747.1 1012.4 747 1011C746.9 1009.6 746.3 1007.1 746 1006C745.7 1004.9 745 1003.1 745 1002C745 1000.9 745.6 998.1 746 997C746.4 995.9 747.4 993.8 748 993Z" fill="#d6556d"/>
<path d="M808 1024.5 L810 1023 L812 1025 L810 1026Z" fill="#d6556d"/>
<path d="M762 180.4V1335M871 180.4V1335M980 180.4V1335M1089 180.4V1335M1198 180.4V1335M1307 180.4V1335" stroke="#b0b0b0" stroke-opacity="0.27" stroke-width="2" fill="none"/>
<path d="M687.5 250H1341.5M687.5 395.1H1341.5M687.5 540.3H1341.5M687.5 685.4H1341.5M687.5 830.6H1341.5M687.5 975.7H1341.5M687.5 1120.9H1341.5M687.5 1266H1341.5" stroke="#b0b0b0" stroke-opacity="0.27" stroke-width="2" fill="none"/>
<path d="M1180.5 245.5 L1177.5 247.5 L1176 250.5 L1175 252.5 L1171 255 L1168 256.5 L1171 257 L1174 255.5 L1176 258 L1175 260 L1174 264 L1171.5 267 L1167 270 L1162 273 L1159 276 L1158.5 281 L1157 285 L1154 286.5 L1151 284 L1148 280 L1144 278.5 L1142 281 L1145.5 283 L1148 286 L1150 290 L1152.5 291 L1152 295 L1154 298 L1156 304 L1158 309 L1157.5 317 L1154 323 L1151 328 L1149 335 L1150 340 L1148 345 L1146 349 L1142 352.5 L1137 354.5 L1132 354.5 L1128 352.5 L1125 349 L1124 350 L1126 355 L1128 360 L1124 360 L1120 361 L1117 364 L1114 363.5 L1113.5 365 L1115 370 L1114 375 L1113 380 L1114 370 L1113 375 L1111 379 L1108 380.5 L1104 379 L1102 374 L1100 368 L1097 363 L1094 360 L1090 359.5 L1088 359 L1086 361 L1084 364 L1081 368 L1080 373 L1081 374 L1084 374 L1081 377 L1080.5 382 L1083 387 L1087 391 L1090 394 L1087 396 L1089 400 L1091 404 L1089.5 407 L1090 413 L1089.5 418 L1087.5 418.5 L1087 414 L1087.5 409 L1086 405 L1083.5 402 L1082 401.5 L1083.5 404 L1084 406 L1081 410 L1077 411 L1074 410 L1072 413 L1073 416 L1070 419 L1068 424 L1067 430 L1068 435 L1071 436 L1074 434.5 L1076 436 L1079 436 L1082 438 L1086 439 L1090 440 L1091 445 L1090.5 450 L1089 450.5 L1088 445 L1087.5 442 L1085 441 L1084 444 L1082.5 446 L1082 443 L1079 440 L1075 440 L1072 442 L1070 445 L1066 447.5 L1066 445 L1063 452 L1060 460 L1057.5 466 L1054 468 L1051 473 L1048 475 L1046 474 L1046.5 468 L1048 462 L1051 458 L1054 454.5 L1053 450 L1052.5 445 L1050 443 L1046 446 L1041 451 L1037 456 L1038 458 L1041 457 L1043 458 L1042 460 L1039 460.5 L1036 463 L1033 467 L1031 471 L1026 474.5 L1022 478 L1020.5 481 L1021 485 L1024 486 L1024.5 488.5 L1028 489 L1029 492 L1030 495.5 L1033.5 497 L1033.5 499 L1028 500 L1022 502 L1016 503.5 L1014 507.5 L1013 505 L1015 501 L1018 496 L1021 492 L1016 488 L1014.5 485 L1014 482 L1008 483.5 L1002 488 L996 492 L992 494.5 L988 498.5 L983 501 L978 504 L973 508 L968 512 L966 516 L967 519.5 L969 520 L968 523 L965.5 526 L966 528 L970 528.5 L974 531 L976.5 534 L978 537 L976 534.5 L973.5 533 L972.5 535 L971 534.5 L970.5 536 L968 538 L966 537 L964 534 L962 530 L959.5 527 L961 524 L960.5 520 L958 518.5 L953 518.5 L949 520 L946 523 L945.5 527 L948.5 526.5 L948 530 L944 529 L941 527.5 L940 524.5 L936 524 L935 524 L932 525.5 L930 527 L926 525.5 L922 524 L919 525.5 L916 529 L917 532 L917.5 534 L915.5 537 L915 542 L913 536.5 L906 537 L898 538 L900 541 L899.5 545 L896 547.5 L893 548.5 L892 545 L891.5 539 L891 534.5 L886 536.5 L881 539.5 L878 543 L875 547.5 L871 550 L866 552.5 L863 554 L860.5 556.5 L857 554.5 L855 553.5 L846 553.5 L838 553 L832 553.5 L830.5 555 L830.5 559 L829.5 562 L827.5 564.5 L827.5 568 L829.5 571 L832 574 L832.5 578 L830.5 581 L829 582 L830 585 L830.5 589 L829 592 L825 596.5 L821 602 L816 609 L813 615 L810.5 620 L809.5 622 L809 624.5 L805 630 L801 636 L799.5 638.5 L797 642 L794 646.5 L793 651 L793.5 655.5 L796 660 L799 664 L801 668 L800.5 673 L799 680 L798.5 681 L799 687 L800.5 693 L801.5 700 L801.5 708 L801.5 715 L804 719 L808 724 L812 729 L815 735 L817 741 L818 746 L816 750 L817 755 L815 759 L815 764 L818 768 L822 773 L825 777 L826 780 L830 784 L832.5 788 L833.5 793 L834 796.5 L830.5 798 L829.5 801 L827.5 803 L828.5 808 L826.5 812 L825 814 L826.5 817 L829 819 L831 820 L833 823 L833.5 828 L832 832.5 L828 836.5 L824 840 L821 844.5 L818 850 L816.5 854 L816.5 857.5 L812 861 L809 864.5 L807 868 L806 873 L804 878 L801 883 L797 884.5 L794 889 L791 895 L790 901 L788 909 L786 915 L784 919.5 L780 922.5 L775.5 922 L769 922.5 L765 925 L762.5 926.5 L760.5 931 L760 940 L760 950 L758 951 L755 952.5 L751 957 L749.5 961 L750 965 L748 966 L746.5 968.5 L747.5 971 L745 974 L744 979 L744 985 L745.5 988 L748 988.5 L747.5 991 L743 991.5 L742 993.5 L743.5 998 L744 1002 L746 1006 L747 1011 L746.5 1017 L748 1022 L750.5 1028 L751.5 1034 L753.5 1038 L757 1042 L760 1045.5 L763 1049 L767 1052 L769 1055 L770 1060 L770.5 1066 L771 1071 L773.5 1074.5 L777 1077 L780 1080 L781.5 1082.5 L780 1085 L779 1087 L780.5 1089 L778.5 1091 L777 1091.5 L773.5 1093 L772.2 1097 L771.8 1103 L773 1108 L774.5 1112 L773.5 1115 L774.5 1120 L774 1128 L774 1134 L774.5 1140 L775.5 1146 L778 1151 L783 1154.5 L787 1157.5 L789 1162 L792.5 1166 L793.5 1170 L793 1175 L795 1179 L798 1182.5 L800 1187 L800.5 1192 L803.5 1195 L807 1197 L810 1197.5 L814 1200 L818 1203 L820.5 1204 L824 1210 L825 1212 L832 1213 L841 1214 L850 1215 L856 1217 L862 1220.5 L866 1224 L870 1227.5 L876 1229.5 L880 1232 L881.5 1235 L882.5 1237 L888 1235.5 L898 1235 L910 1234 L916 1231 L922 1227 L926 1224 L932 1222 L941 1217.5 L951 1212.5 L960 1208.5 L966 1206.5 L972 1205 L979 1205 L985 1205.5 L990 1206.5 L994 1206 L1000 1204 L1006 1200 L1011.5 1196.5 L1012.5 1198.5 L1014 1197.5 L1019 1193 L1023.5 1190 L1025.5 1184 L1026.5 1180 L1030 1177 L1030.5 1174 L1034 1168 L1038 1160 L1040.5 1152 L1041 1144 L1039.5 1140.5 L1042 1140 L1044 1137 L1047.5 1129 L1049 1124 L1051 1122.5 L1054 1119 L1058 1110 L1060.5 1100 L1060.5 1095 L1061 1089 L1064 1080 L1068 1068 L1072 1055 L1077 1040 L1077.5 1035 L1080 1022 L1081.5 1010 L1085 1000 L1090 991 L1096 977 L1103.5 960 L1107 949 L1111 938 L1115 928 L1115.5 920 L1118 914 L1121 905 L1120.5 900.5 L1122.5 897 L1126 884 L1130 870 L1135 857 L1140 844 L1146.5 833 L1144 829 L1145.5 827 L1148.5 826 L1149 820 L1151 810 L1150.5 810 L1153.5 800 L1157 792 L1160.5 784 L1163 776 L1165 769 L1166.5 763 L1169 758 L1172 752 L1175.5 745 L1177.5 737 L1179 731 L1182 725 L1186 718 L1188 715 L1188.5 708 L1189 702 L1191 698.5 L1194 696 L1191.5 692 L1192.5 686 L1195 679 L1197.5 671 L1199 665 L1198 660 L1197.5 660 L1196.5 655 L1195 648 L1193 642 L1191.5 637 L1193 630 L1196 623 L1200 614 L1204 607 L1207 604 L1214 602.5 L1220 601.5 L1222 600 L1216 599 L1213.5 595 L1214 591 L1217 589 L1221 584 L1224 579 L1224.5 573 L1223 569 L1222.5 564 L1223.5 558 L1222 554 L1218 551 L1213 549 L1211 544 L1212 539 L1215 533 L1213 527 L1211 521 L1209 516 L1208 510 L1208 510 L1207.5 507 L1210 502 L1214 499 L1221 499 L1226 498 L1227.5 502 L1228 510 L1228 510 L1231 514 L1232 520 L1236 525 L1237 530 L1241 534 L1245 536 L1247 539 L1251 537 L1254 532 L1258.5 527 L1260 521 L1263 515 L1266 510 L1265 510 L1266 506 L1268.5 500 L1270 494 L1271 488 L1269 483 L1266 479 L1262 473 L1259 468 L1256 462 L1254 457 L1253 452 L1249 450 L1250 449 L1252.5 445 L1251 439 L1249 432 L1248.5 425 L1250 420 L1249 416 L1246.5 410 L1247 402 L1246 394 L1245.5 386 L1244.5 378 L1242 373 L1240.5 366 L1238 360 L1244.5 380 L1242 372 L1240 365 L1238 360 L1236 354 L1236 348 L1233 345 L1231.5 340 L1230 334 L1230 325 L1227.5 320 L1225 317 L1224.5 314 L1221 312 L1220 309 L1217 305.5 L1213.5 303.5 L1212 307 L1209.5 308 L1210.5 304 L1208 299.5 L1205 297.5 L1202.5 295 L1203.5 291 L1205 287 L1203.5 283 L1201.5 280 L1200 276 L1196 275 L1194 272 L1192 268 L1189 264.5 L1188 261 L1187 256 L1186 251 L1184 247 L1180.5 245.5Z" fill="none" stroke="#000" stroke-width="1.9" stroke-linejoin="round" stroke-linecap="round"/>
<path d="M1178 259 L1182 261 L1186 261 L1187 264 L1188.5 268 L1187 271 L1184 270.5 L1182 268 L1180 264 L1178.5 261Z" fill="none" stroke="#000" stroke-width="1.9" stroke-linejoin="round" stroke-linecap="round"/>
<path d="M1106 341 L1107.5 338 L1110.5 337 L1113 337.5 L1113 341 L1114.5 344 L1115.5 348 L1115.5 351.5 L1112 351 L1108 350 L1105 349.5 L1103 345 L1102.5 341Z" fill="none" stroke="#000" stroke-width="1.9" stroke-linejoin="round" stroke-linecap="round"/>
<path d="M1236 590 L1233 591 L1230 596 L1226 604 L1223 611 L1220.5 617 L1221.5 620 L1225 615 L1229 607 L1232 600 L1234.5 594Z" fill="none" stroke="#000" stroke-width="1.9" stroke-linejoin="round" stroke-linecap="round"/>
<path d="M745.5 205 L750 203.5 L753.5 204 L755 207 L754.5 213 L753.5 219 L754 223 L756.5 227 L758 231 L758.5 235 L760.5 239 L761.5 242 L760.5 244.5 L758 245 L755.5 242 L752 239.5 L747 238.5 L744.5 235.5 L743 233 L741.5 230 L743 227.5 L744 224 L744 218 L744.5 212 L744.5 208Z" fill="none" stroke="#000" stroke-width="1.9" stroke-linejoin="round" stroke-linecap="round"/>
<path d="M771.5 267 L775 267 L780 269 L784 272 L787.5 274.5 L789 276.5 L787 277.5 L782 277 L778 276 L774 275.5 L772.5 272.5 L771.5 270Z" fill="none" stroke="#000" stroke-width="1.9" stroke-linejoin="round" stroke-linecap="round"/>
<path d="M813.5 261.5 L818 263 L823 263.5 L827 261.5 L828.5 257 L830 255 L833 254.5 L834.5 258 L836 264 L837 270 L837 275 L835.5 278 L833 275.5 L829 271.5 L825 268.5 L820 266 L816 264Z" fill="none" stroke="#000" stroke-width="1.9" stroke-linejoin="round" stroke-linecap="round"/>
<path d="M877.5 296.5 L879 299 L882.5 301 L886 302.5 L887.5 305 L886.5 309 L887 312 L885.5 315 L884 318 L885 320 L883 322 L880 321.5 L877 319.5 L876 317 L878 315.5 L876 314.5 L879 313.5 L878.5 310 L878 307 L876 304 L874.5 301 L875.5 298.5Z" fill="none" stroke="#000" stroke-width="1.9" stroke-linejoin="round" stroke-linecap="round"/>
<g fill="#000"><circle cx="1145" cy="828" r="1.6"/><circle cx="1121" cy="902" r="1.6"/><circle cx="1060" cy="1091" r="1.8"/><circle cx="1025" cy="1186.5" r="2"/><circle cx="748" cy="968.5" r="1.7"/><circle cx="809.5" cy="865" r="1.6"/><circle cx="915" cy="542" r="2"/><circle cx="830" cy="580.5" r="1.7"/><circle cx="992" cy="496.5" r="1.7"/><circle cx="1013.5" cy="506" r="1.7"/><circle cx="1198.5" cy="279" r="2"/><circle cx="1176" cy="255.5" r="1.8"/><circle cx="1038" cy="218.5" r="1.5"/><circle cx="891.5" cy="306" r="1.5"/><circle cx="1187" cy="277" r="1.5"/><ellipse cx="707.5" cy="617.3" rx="2.3" ry="1.6"/><ellipse cx="825" cy="1206.5" rx="3.6" ry="2.6" transform="rotate(30 825 1206.5)"/><ellipse cx="891.6" cy="306" rx="1.3" ry="2.8"/></g>
</g>
<rect x="687.5" y="180.4" width="654" height="1154.6" fill="none" stroke="#000" stroke-width="3"/>
<path d="M1411 232.882L1439.8 180.4L1468.6 232.882Z" fill="#f0f921"/>
<rect x="1411" y="232.88" width="57.6" height="105.46" fill="#f7e425"/>
<rect x="1411" y="337.85" width="57.6" height="105.46" fill="#feba2c"/>
<rect x="1411" y="442.81" width="57.6" height="105.46" fill="#f89540"/>
<rect x="1411" y="547.77" width="57.6" height="105.46" fill="#ea7457"/>
<rect x="1411" y="652.74" width="57.6" height="105.46" fill="#d6556d"/>
<rect x="1411" y="757.70" width="57.6" height="105.46" fill="#bf3984"/>
<rect x="1411" y="862.66" width="57.6" height="105.46" fill="#a11b9b"/>
<rect x="1411" y="967.63" width="57.6" height="105.46" fill="#7e03a8"/>
<rect x="1411" y="1072.59" width="57.6" height="105.46" fill="#5601a4"/>
<rect x="1411" y="1177.55" width="57.6" height="105.46" fill="#2a0593"/>
<path d="M1411 1282.52L1439.8 1335L1468.6 1282.52Z" fill="#0d0887"/>
<path d="M1411 232.882L1439.8 180.4L1468.6 232.882L1468.6 1282.52L1439.8 1335L1411 1282.52Z" fill="none" stroke="#000" stroke-width="3" stroke-linejoin="miter"/>
<path d="M1470.1 337.85H1484.6M1470.1 547.77H1484.6M1470.1 757.70H1484.6M1470.1 967.63H1484.6M1470.1 1177.55H1484.6" stroke="#000" stroke-width="3" fill="none"/>
</svg>
<div class="t title" style="left:681.86px;top:55.33px">Temp(°C) @ 20250909_15</div>
<div class="t title" style="left:576.51px;top:113.13px"> Simulation Time: 20250908_12</div>
<div class="t lab" style="left:563.77px;top:227.38px">12°S</div>
<div class="t lab" style="left:563.77px;top:372.48px">14°S</div>
<div class="t lab" style="left:563.77px;top:517.68px">16°S</div>
<div class="t lab" style="left:563.77px;top:662.78px">18°S</div>
<div class="t lab" style="left:563.77px;top:807.98px">20°S</div>
<div class="t lab" style="left:563.77px;top:953.08px">22°S</div>
<div class="t lab" style="left:563.77px;top:1098.28px">24°S</div>
<div class="t lab" style="left:563.77px;top:1243.38px">26°S</div>
<div class="t lab" style="left:685.46px;top:1354.48px">43.5°E</div>
<div class="t lab" style="left:903.46px;top:1354.48px">46.5°E</div>
<div class="t lab" style="left:1121.46px;top:1354.48px">49.5°E</div>
<div class="t lab" style="left:1496.31px;top:317.53px">40</div>
<div class="t lab" style="left:1496.31px;top:527.46px">30</div>
<div class="t lab" style="left:1496.31px;top:737.38px">20</div>
<div class="t lab" style="left:1496.31px;top:947.31px">10</div>
<div class="t lab" style="left:1496.31px;top:1157.24px">0</div>
</body></html>
